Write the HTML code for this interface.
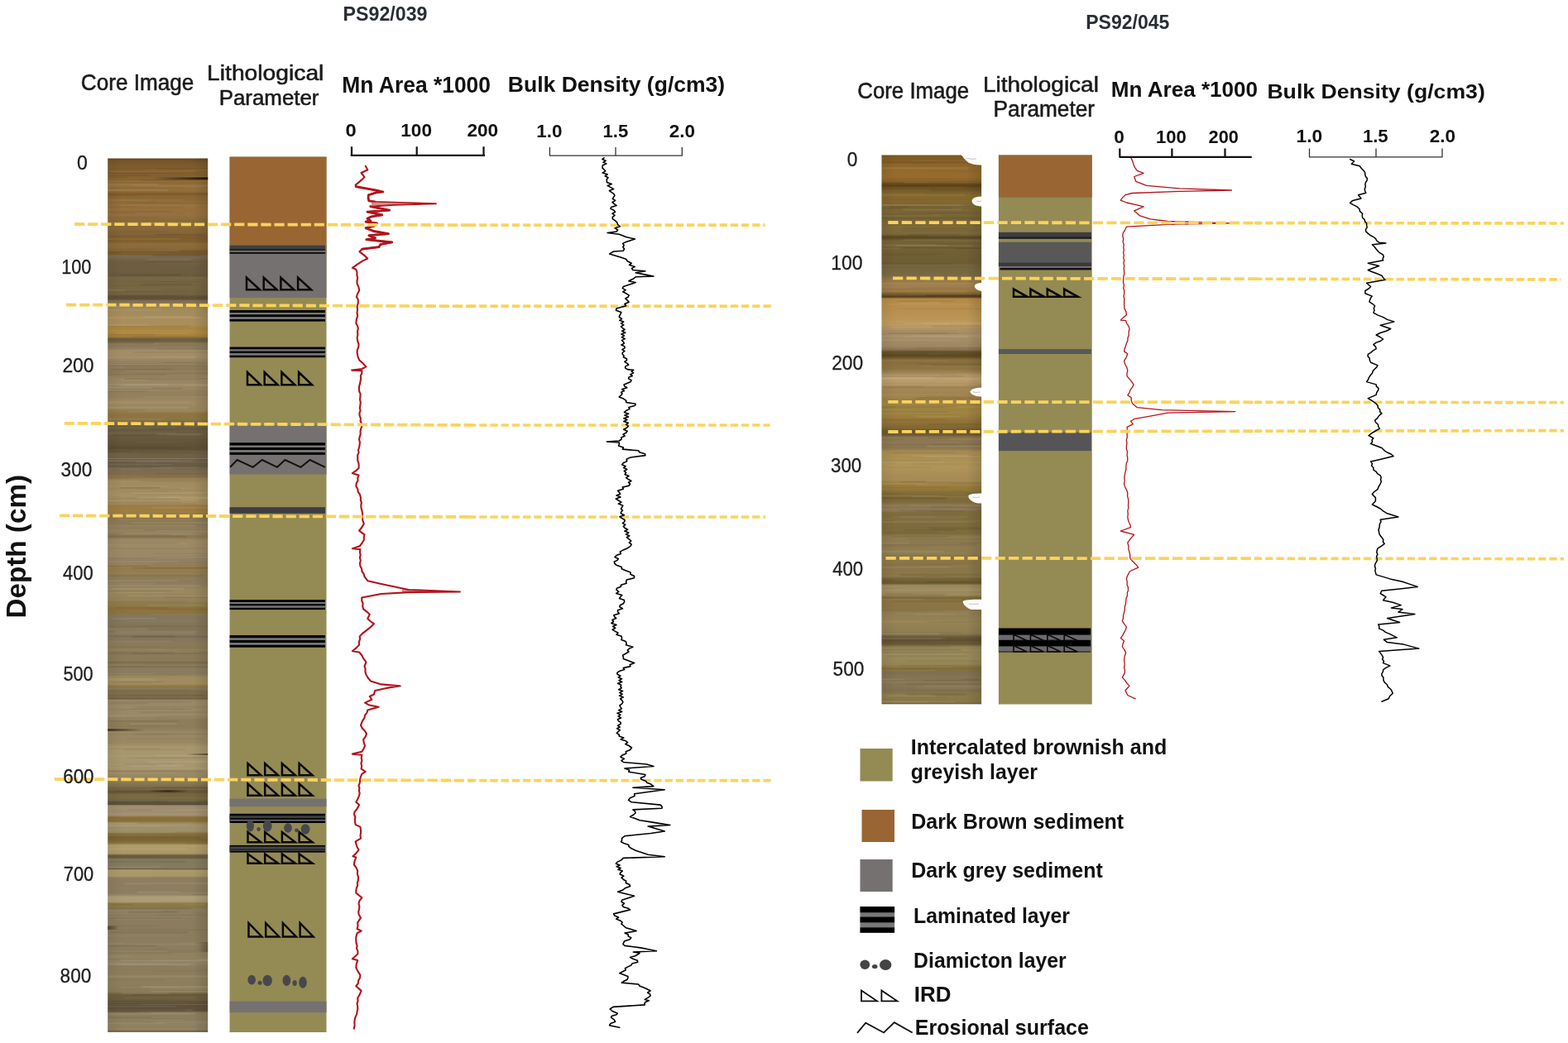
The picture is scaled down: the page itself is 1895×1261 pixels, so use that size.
<!DOCTYPE html><html><head><meta charset="utf-8"><title>PS92/039 and PS92/045 core logs</title>
<style>html,body{margin:0;padding:0;background:#fff;}body{width:1895px;height:1261px;overflow:hidden;}svg{display:block;}text{font-family:'Liberation Sans', Arial, sans-serif;}</style></head><body>
<svg width="1895" height="1261" viewBox="0 0 1895 1261">
<defs>
<linearGradient id="gL" x1="0" y1="191" x2="0" y2="1248" gradientUnits="userSpaceOnUse"><stop offset="0.0000" stop-color="#5e4220"/><stop offset="0.0019" stop-color="#6e4c22"/><stop offset="0.0057" stop-color="#7c5828"/><stop offset="0.0142" stop-color="#82602e"/><stop offset="0.0218" stop-color="#86622f"/><stop offset="0.0255" stop-color="#8a6532"/><stop offset="0.0312" stop-color="#936d38"/><stop offset="0.0378" stop-color="#936e3a"/><stop offset="0.0416" stop-color="#7c5828"/><stop offset="0.0449" stop-color="#8a6634"/><stop offset="0.0511" stop-color="#8e6a36"/><stop offset="0.0577" stop-color="#976f3b"/><stop offset="0.0653" stop-color="#967040"/><stop offset="0.0710" stop-color="#8a6a3a"/><stop offset="0.0776" stop-color="#8a6a38"/><stop offset="0.0851" stop-color="#86663a"/><stop offset="0.0899" stop-color="#7e5c2c"/><stop offset="0.0956" stop-color="#80602e"/><stop offset="0.0984" stop-color="#8e6c3c"/><stop offset="0.1031" stop-color="#8a6a38"/><stop offset="0.1060" stop-color="#7a5a2a"/><stop offset="0.1102" stop-color="#7a5a2a"/><stop offset="0.1116" stop-color="#7a6c52"/><stop offset="0.1145" stop-color="#766850"/><stop offset="0.1183" stop-color="#6e5e40"/><stop offset="0.1306" stop-color="#6e5e40"/><stop offset="0.1343" stop-color="#685a3c"/><stop offset="0.1381" stop-color="#766644"/><stop offset="0.1476" stop-color="#746440"/><stop offset="0.1561" stop-color="#72623e"/><stop offset="0.1589" stop-color="#5e5038"/><stop offset="0.1613" stop-color="#5e5038"/><stop offset="0.1627" stop-color="#7a6a4c"/><stop offset="0.1665" stop-color="#8a7856"/><stop offset="0.1712" stop-color="#a08a5e"/><stop offset="0.1788" stop-color="#a48c5e"/><stop offset="0.1845" stop-color="#a98f5c"/><stop offset="0.1911" stop-color="#ab8e58"/><stop offset="0.1949" stop-color="#a8843e"/><stop offset="0.1996" stop-color="#b08a40"/><stop offset="0.2044" stop-color="#a07e3c"/><stop offset="0.2067" stop-color="#6e6040"/><stop offset="0.2100" stop-color="#6e6040"/><stop offset="0.2119" stop-color="#8a7a58"/><stop offset="0.2176" stop-color="#8e7e5c"/><stop offset="0.2204" stop-color="#a48e68"/><stop offset="0.2280" stop-color="#a48e68"/><stop offset="0.2318" stop-color="#988462"/><stop offset="0.2403" stop-color="#8e7a58"/><stop offset="0.2450" stop-color="#8c7a58"/><stop offset="0.2517" stop-color="#9a8662"/><stop offset="0.2640" stop-color="#9a8662"/><stop offset="0.2677" stop-color="#94805c"/><stop offset="0.2734" stop-color="#94805c"/><stop offset="0.2772" stop-color="#9c8860"/><stop offset="0.2848" stop-color="#9c8860"/><stop offset="0.2886" stop-color="#947e50"/><stop offset="0.2933" stop-color="#8e7440"/><stop offset="0.2990" stop-color="#8e7440"/><stop offset="0.3027" stop-color="#7e6c4c"/><stop offset="0.3065" stop-color="#6e6044"/><stop offset="0.3169" stop-color="#6a5c40"/><stop offset="0.3254" stop-color="#62543a"/><stop offset="0.3321" stop-color="#5e5036"/><stop offset="0.3363" stop-color="#66583c"/><stop offset="0.3387" stop-color="#6e6246"/><stop offset="0.3430" stop-color="#6e6246"/><stop offset="0.3437" stop-color="#8a7c68"/><stop offset="0.3448" stop-color="#6a5c44"/><stop offset="0.3529" stop-color="#6a5c44"/><stop offset="0.3557" stop-color="#7a6c52"/><stop offset="0.3614" stop-color="#7e6c4c"/><stop offset="0.3652" stop-color="#8e7648"/><stop offset="0.3699" stop-color="#a08a5e"/><stop offset="0.3794" stop-color="#a48e60"/><stop offset="0.3888" stop-color="#a89264"/><stop offset="0.3955" stop-color="#a48c5c"/><stop offset="0.3983" stop-color="#9c7e40"/><stop offset="0.4030" stop-color="#a07e40"/><stop offset="0.4068" stop-color="#947c4c"/><stop offset="0.4115" stop-color="#8a7652"/><stop offset="0.4201" stop-color="#8e7a56"/><stop offset="0.4267" stop-color="#958260"/><stop offset="0.4333" stop-color="#8a7650"/><stop offset="0.4371" stop-color="#9c8864"/><stop offset="0.4532" stop-color="#9c8864"/><stop offset="0.4570" stop-color="#928060"/><stop offset="0.4636" stop-color="#928060"/><stop offset="0.4674" stop-color="#947c4c"/><stop offset="0.4740" stop-color="#947c4c"/><stop offset="0.4778" stop-color="#8e7c58"/><stop offset="0.4872" stop-color="#8e7c5c"/><stop offset="0.4939" stop-color="#9a8760"/><stop offset="0.5061" stop-color="#968258"/><stop offset="0.5109" stop-color="#8c7a48"/><stop offset="0.5166" stop-color="#8c7238"/><stop offset="0.5203" stop-color="#8a7440"/><stop offset="0.5232" stop-color="#84775c"/><stop offset="0.5383" stop-color="#827456"/><stop offset="0.5516" stop-color="#84775e"/><stop offset="0.5553" stop-color="#8a7a58"/><stop offset="0.5752" stop-color="#8a7a58"/><stop offset="0.5771" stop-color="#7a6a4c"/><stop offset="0.5790" stop-color="#8a7c5c"/><stop offset="0.5904" stop-color="#8a7c5c"/><stop offset="0.5941" stop-color="#a08c5e"/><stop offset="0.6017" stop-color="#a08c5e"/><stop offset="0.6045" stop-color="#8c7640"/><stop offset="0.6074" stop-color="#8a7a5a"/><stop offset="0.6102" stop-color="#7e6e4c"/><stop offset="0.6168" stop-color="#7e6e4c"/><stop offset="0.6183" stop-color="#6e5e40"/><stop offset="0.6202" stop-color="#9a8866"/><stop offset="0.6386" stop-color="#9a8866"/><stop offset="0.6424" stop-color="#8e7c5a"/><stop offset="0.6518" stop-color="#8e7c5a"/><stop offset="0.6566" stop-color="#9a8864"/><stop offset="0.6689" stop-color="#9a8864"/><stop offset="0.6736" stop-color="#a8966e"/><stop offset="0.6982" stop-color="#a8966e"/><stop offset="0.7020" stop-color="#9e8c66"/><stop offset="0.7086" stop-color="#988660"/><stop offset="0.7143" stop-color="#8a7a56"/><stop offset="0.7190" stop-color="#7e6e4c"/><stop offset="0.7219" stop-color="#6a5a3a"/><stop offset="0.7256" stop-color="#6a5a3a"/><stop offset="0.7285" stop-color="#7a6a48"/><stop offset="0.7332" stop-color="#7a6a3e"/><stop offset="0.7356" stop-color="#6a5e44"/><stop offset="0.7370" stop-color="#5e5440"/><stop offset="0.7394" stop-color="#5e5440"/><stop offset="0.7408" stop-color="#a08e6e"/><stop offset="0.7521" stop-color="#a08e6e"/><stop offset="0.7540" stop-color="#8a7038"/><stop offset="0.7588" stop-color="#8a7038"/><stop offset="0.7606" stop-color="#a09068"/><stop offset="0.7701" stop-color="#a09068"/><stop offset="0.7729" stop-color="#86703e"/><stop offset="0.7796" stop-color="#7a6434"/><stop offset="0.7838" stop-color="#86703e"/><stop offset="0.7862" stop-color="#b09c68"/><stop offset="0.7956" stop-color="#ac9866"/><stop offset="0.7975" stop-color="#6e6244"/><stop offset="0.8004" stop-color="#6e6244"/><stop offset="0.8023" stop-color="#857a5e"/><stop offset="0.8122" stop-color="#857a5e"/><stop offset="0.8132" stop-color="#6a5e44"/><stop offset="0.8146" stop-color="#ac9a6c"/><stop offset="0.8212" stop-color="#a8966a"/><stop offset="0.8240" stop-color="#8c7e5e"/><stop offset="0.8430" stop-color="#8c7e5e"/><stop offset="0.8448" stop-color="#b0a078"/><stop offset="0.8505" stop-color="#aa9a72"/><stop offset="0.8524" stop-color="#8a7844"/><stop offset="0.8562" stop-color="#8a7844"/><stop offset="0.8590" stop-color="#8a7c5c"/><stop offset="0.8884" stop-color="#8a7c5c"/><stop offset="0.9073" stop-color="#8c7e5e"/><stop offset="0.9139" stop-color="#948664"/><stop offset="0.9196" stop-color="#948664"/><stop offset="0.9262" stop-color="#8a7c5c"/><stop offset="0.9404" stop-color="#8e805c"/><stop offset="0.9536" stop-color="#8a7c5a"/><stop offset="0.9565" stop-color="#6e603e"/><stop offset="0.9631" stop-color="#6a5c3c"/><stop offset="0.9659" stop-color="#5e5038"/><stop offset="0.9754" stop-color="#5e5038"/><stop offset="0.9782" stop-color="#8a7c5c"/><stop offset="0.9972" stop-color="#8e8060"/><stop offset="0.9991" stop-color="#6a5c40"/><stop offset="1.0000" stop-color="#5a4c34"/></linearGradient>
<linearGradient id="gR" x1="0" y1="187" x2="0" y2="852" gradientUnits="userSpaceOnUse"><stop offset="0.0000" stop-color="#6e4e1c"/><stop offset="0.0030" stop-color="#7e5a22"/><stop offset="0.0120" stop-color="#825e24"/><stop offset="0.0165" stop-color="#8c6428"/><stop offset="0.0286" stop-color="#936a2c"/><stop offset="0.0406" stop-color="#966c2e"/><stop offset="0.0481" stop-color="#8a6428"/><stop offset="0.0526" stop-color="#6a4c1c"/><stop offset="0.0564" stop-color="#5a4216"/><stop offset="0.0602" stop-color="#6a5022"/><stop offset="0.0662" stop-color="#745a28"/><stop offset="0.0707" stop-color="#84682e"/><stop offset="0.0857" stop-color="#84682e"/><stop offset="0.0917" stop-color="#7c6634"/><stop offset="0.1068" stop-color="#7a6636"/><stop offset="0.1173" stop-color="#786434"/><stop offset="0.1248" stop-color="#7c6838"/><stop offset="0.1323" stop-color="#806a3c"/><stop offset="0.1444" stop-color="#7e683a"/><stop offset="0.1489" stop-color="#5a4a24"/><stop offset="0.1519" stop-color="#5a4a24"/><stop offset="0.1564" stop-color="#746236"/><stop offset="0.1774" stop-color="#726034"/><stop offset="0.1955" stop-color="#6e5c34"/><stop offset="0.2075" stop-color="#766640"/><stop offset="0.2195" stop-color="#7a6a44"/><stop offset="0.2241" stop-color="#8a7448"/><stop offset="0.2316" stop-color="#9a7c48"/><stop offset="0.2406" stop-color="#a08050"/><stop offset="0.2481" stop-color="#967842"/><stop offset="0.2534" stop-color="#7a5c2a"/><stop offset="0.2571" stop-color="#4e3818"/><stop offset="0.2594" stop-color="#6a4e22"/><stop offset="0.2617" stop-color="#b08844"/><stop offset="0.2692" stop-color="#b88c48"/><stop offset="0.2827" stop-color="#b8904e"/><stop offset="0.2992" stop-color="#bc9656"/><stop offset="0.3083" stop-color="#c09c60"/><stop offset="0.3158" stop-color="#b09060"/><stop offset="0.3203" stop-color="#a89068"/><stop offset="0.3383" stop-color="#a48c66"/><stop offset="0.3489" stop-color="#9c8662"/><stop offset="0.3549" stop-color="#8a7050"/><stop offset="0.3579" stop-color="#6a5428"/><stop offset="0.3624" stop-color="#5e4a24"/><stop offset="0.3684" stop-color="#6a5428"/><stop offset="0.3729" stop-color="#8a6e3c"/><stop offset="0.3895" stop-color="#8c7444"/><stop offset="0.3955" stop-color="#9c8050"/><stop offset="0.4000" stop-color="#b09464"/><stop offset="0.4075" stop-color="#c0a070"/><stop offset="0.4135" stop-color="#b89a68"/><stop offset="0.4211" stop-color="#a88a58"/><stop offset="0.4346" stop-color="#a08450"/><stop offset="0.4451" stop-color="#9c7e48"/><stop offset="0.4526" stop-color="#a08442"/><stop offset="0.4707" stop-color="#a08442"/><stop offset="0.4782" stop-color="#9a7a3a"/><stop offset="0.4917" stop-color="#8a6c34"/><stop offset="0.4977" stop-color="#7a6430"/><stop offset="0.5023" stop-color="#6a5630"/><stop offset="0.5098" stop-color="#6e5c36"/><stop offset="0.5143" stop-color="#8a7650"/><stop offset="0.5338" stop-color="#8a7650"/><stop offset="0.5398" stop-color="#a88c50"/><stop offset="0.5684" stop-color="#b09458"/><stop offset="0.5850" stop-color="#a88c56"/><stop offset="0.5910" stop-color="#a88c56"/><stop offset="0.5970" stop-color="#9a7e40"/><stop offset="0.6090" stop-color="#94783a"/><stop offset="0.6150" stop-color="#7e6a38"/><stop offset="0.6316" stop-color="#7e6a38"/><stop offset="0.6361" stop-color="#8a7650"/><stop offset="0.6451" stop-color="#8a7650"/><stop offset="0.6496" stop-color="#7e6c3c"/><stop offset="0.6887" stop-color="#7e6c3c"/><stop offset="0.6947" stop-color="#8e7c50"/><stop offset="0.7233" stop-color="#8e7c50"/><stop offset="0.7308" stop-color="#8a7648"/><stop offset="0.7669" stop-color="#8a7648"/><stop offset="0.7729" stop-color="#6e5c30"/><stop offset="0.7789" stop-color="#6a5a30"/><stop offset="0.7835" stop-color="#a08c60"/><stop offset="0.8015" stop-color="#9a8658"/><stop offset="0.8053" stop-color="#7a6638"/><stop offset="0.8090" stop-color="#8a7444"/><stop offset="0.8271" stop-color="#8a7444"/><stop offset="0.8316" stop-color="#8e7c52"/><stop offset="0.8496" stop-color="#968456"/><stop offset="0.8707" stop-color="#8e7c52"/><stop offset="0.8767" stop-color="#6a5a36"/><stop offset="0.8835" stop-color="#5e5030"/><stop offset="0.8902" stop-color="#6a5a36"/><stop offset="0.8947" stop-color="#948456"/><stop offset="0.9143" stop-color="#9a8a5a"/><stop offset="0.9278" stop-color="#948456"/><stop offset="0.9323" stop-color="#85703a"/><stop offset="0.9368" stop-color="#85703a"/><stop offset="0.9414" stop-color="#7e7050"/><stop offset="0.9594" stop-color="#8a7a56"/><stop offset="0.9744" stop-color="#7e7050"/><stop offset="0.9805" stop-color="#8a7848"/><stop offset="0.9955" stop-color="#8a7848"/><stop offset="0.9985" stop-color="#6a5a38"/><stop offset="1.0000" stop-color="#5a4a30"/></linearGradient>
<linearGradient id="hs" x1="0" y1="0" x2="1" y2="0"><stop offset="0" stop-color="#000" stop-opacity="0.06"/><stop offset="0.15" stop-color="#000" stop-opacity="0"/><stop offset="0.85" stop-color="#000" stop-opacity="0"/><stop offset="1" stop-color="#000" stop-opacity="0.12"/></linearGradient>
<linearGradient id="lamg" x1="0" y1="0" x2="0" y2="1"><stop offset="0" stop-color="#000"/><stop offset="0.2" stop-color="#000"/><stop offset="0.25" stop-color="#777"/><stop offset="0.37" stop-color="#777"/><stop offset="0.42" stop-color="#000"/><stop offset="0.58" stop-color="#000"/><stop offset="0.63" stop-color="#777"/><stop offset="0.77" stop-color="#777"/><stop offset="0.82" stop-color="#000"/><stop offset="1" stop-color="#000"/></linearGradient>
<filter id="soft" x="-0.05" y="-0.01" width="1.1" height="1.02"><feGaussianBlur stdDeviation="1.2 0.5"/></filter>
</defs>
<rect width="1895" height="1261" fill="#fff"/>
<g stroke="#111" fill="none">
<path d="M423.7 187.9H586M425 187.9V177.3M503.7 187.9V177.3M584.5 187.9V177.3" stroke-width="2.2"/>
<path d="M663.9 188.2H824.8M664.4 188.2V178M744 188.2V178M824.3 188.2V178" stroke-width="1.3" stroke="#333"/>
<path d="M1352.5 189.8H1512.8M1353.3 189.8V179.6M1416.4 189.8V179.6M1480.5 189.8V179.6" stroke-width="2.2"/>
<path d="M1582 189.8H1743.5M1582.5 189.8V179.6M1663 189.8V179.6M1743 189.8V179.6" stroke-width="1.3" stroke="#333"/>
</g>
<text x="0" y="0" font-size="32.5" font-weight="bold" fill="#111" textLength="173.5" lengthAdjust="spacingAndGlyphs" transform="translate(31.2,747.5) rotate(-90)">Depth (cm)</text>
<rect x="130.2" y="191.5" width="121" height="1056.3" fill="url(#gL)"/>
<rect x="130.2" y="191.5" width="121" height="1056.3" fill="url(#hs)"/>
<clipPath id="clip11"><rect x="130.2" y="191" width="121" height="1057"/></clipPath><g clip-path="url(#clip11)"><g filter="url(#soft)"><rect x="186.1" y="668.4" width="65.1" height="1.7" fill="#000" fill-opacity="0.039"/><rect x="178.2" y="731.0" width="70.4" height="1.8" fill="#fff" fill-opacity="0.070"/><rect x="130.2" y="922.2" width="95.9" height="0.8" fill="#000" fill-opacity="0.038"/><rect x="133.8" y="207.8" width="66.0" height="1.6" fill="#fff" fill-opacity="0.053"/><rect x="130.2" y="655.9" width="84.7" height="2.1" fill="#000" fill-opacity="0.053"/><rect x="130.2" y="484.9" width="99.8" height="2.4" fill="#fff" fill-opacity="0.041"/><rect x="176.6" y="496.4" width="74.6" height="0.8" fill="#fff" fill-opacity="0.078"/><rect x="130.2" y="1084.2" width="82.5" height="0.7" fill="#000" fill-opacity="0.050"/><rect x="177.3" y="268.9" width="54.7" height="1.8" fill="#fff" fill-opacity="0.078"/><rect x="145.1" y="990.2" width="52.7" height="0.9" fill="#000" fill-opacity="0.039"/><rect x="130.2" y="780.9" width="57.9" height="1.5" fill="#000" fill-opacity="0.036"/><rect x="130.2" y="635.1" width="106.7" height="1.1" fill="#fff" fill-opacity="0.074"/><rect x="130.2" y="413.9" width="55.7" height="1.4" fill="#000" fill-opacity="0.041"/><rect x="150.1" y="464.0" width="53.7" height="2.0" fill="#fff" fill-opacity="0.059"/><rect x="152.7" y="447.9" width="98.5" height="1.7" fill="#fff" fill-opacity="0.059"/><rect x="130.2" y="1104.5" width="107.8" height="1.0" fill="#fff" fill-opacity="0.039"/><rect x="130.2" y="970.6" width="112.4" height="2.3" fill="#000" fill-opacity="0.051"/><rect x="188.4" y="301.3" width="62.8" height="0.8" fill="#fff" fill-opacity="0.071"/><rect x="130.2" y="820.1" width="53.4" height="1.2" fill="#fff" fill-opacity="0.058"/><rect x="130.2" y="1089.6" width="63.2" height="1.7" fill="#fff" fill-opacity="0.043"/><rect x="140.9" y="661.3" width="89.9" height="0.8" fill="#fff" fill-opacity="0.048"/><rect x="130.2" y="1130.2" width="90.8" height="2.4" fill="#fff" fill-opacity="0.032"/><rect x="130.2" y="210.8" width="49.9" height="2.2" fill="#000" fill-opacity="0.054"/><rect x="190.7" y="961.2" width="60.5" height="1.2" fill="#000" fill-opacity="0.075"/><rect x="130.2" y="968.2" width="73.9" height="1.9" fill="#000" fill-opacity="0.075"/><rect x="130.2" y="1109.3" width="90.0" height="1.4" fill="#000" fill-opacity="0.049"/><rect x="130.2" y="805.6" width="120.5" height="1.7" fill="#000" fill-opacity="0.066"/><rect x="165.3" y="601.0" width="85.9" height="1.9" fill="#fff" fill-opacity="0.068"/><rect x="159.3" y="223.4" width="91.9" height="1.7" fill="#fff" fill-opacity="0.061"/><rect x="130.9" y="1161.2" width="97.6" height="1.1" fill="#fff" fill-opacity="0.038"/><rect x="130.2" y="1145.7" width="72.1" height="1.8" fill="#000" fill-opacity="0.040"/><rect x="130.2" y="645.7" width="76.3" height="2.1" fill="#000" fill-opacity="0.046"/><rect x="130.2" y="335.4" width="100.0" height="1.5" fill="#000" fill-opacity="0.044"/><rect x="146.8" y="370.1" width="78.5" height="1.5" fill="#000" fill-opacity="0.055"/><rect x="189.6" y="524.1" width="53.8" height="2.1" fill="#fff" fill-opacity="0.074"/><rect x="164.7" y="235.7" width="86.5" height="1.9" fill="#fff" fill-opacity="0.037"/><rect x="180.4" y="670.9" width="58.6" height="0.7" fill="#fff" fill-opacity="0.061"/><rect x="130.2" y="662.1" width="118.0" height="1.8" fill="#000" fill-opacity="0.040"/><rect x="130.9" y="692.3" width="100.2" height="1.0" fill="#fff" fill-opacity="0.044"/><rect x="130.2" y="556.1" width="103.3" height="1.9" fill="#fff" fill-opacity="0.070"/><rect x="130.2" y="1146.3" width="57.8" height="0.8" fill="#fff" fill-opacity="0.061"/><rect x="130.2" y="1150.2" width="106.2" height="1.3" fill="#000" fill-opacity="0.053"/><rect x="130.2" y="877.8" width="95.0" height="1.0" fill="#000" fill-opacity="0.041"/><rect x="130.2" y="1139.7" width="105.8" height="2.4" fill="#fff" fill-opacity="0.075"/><rect x="135.2" y="1093.1" width="88.4" height="1.3" fill="#000" fill-opacity="0.054"/><rect x="130.2" y="221.9" width="61.0" height="2.1" fill="#fff" fill-opacity="0.069"/><rect x="130.2" y="339.9" width="109.4" height="1.0" fill="#000" fill-opacity="0.077"/><rect x="135.4" y="710.7" width="86.6" height="2.3" fill="#fff" fill-opacity="0.066"/><rect x="130.2" y="864.7" width="71.0" height="1.6" fill="#fff" fill-opacity="0.072"/><rect x="130.2" y="1140.3" width="86.5" height="1.1" fill="#000" fill-opacity="0.040"/><rect x="166.8" y="756.3" width="84.4" height="1.6" fill="#000" fill-opacity="0.050"/><rect x="130.2" y="1035.5" width="53.2" height="1.7" fill="#000" fill-opacity="0.051"/><rect x="146.5" y="1199.6" width="57.6" height="2.3" fill="#fff" fill-opacity="0.071"/><rect x="149.4" y="1140.3" width="93.3" height="1.5" fill="#000" fill-opacity="0.036"/><rect x="141.9" y="1012.6" width="98.3" height="0.7" fill="#fff" fill-opacity="0.048"/><rect x="174.4" y="844.6" width="76.8" height="0.9" fill="#fff" fill-opacity="0.040"/><rect x="152.9" y="750.5" width="86.8" height="1.4" fill="#fff" fill-opacity="0.040"/><rect x="130.2" y="856.8" width="92.8" height="1.8" fill="#000" fill-opacity="0.042"/><rect x="184.8" y="972.0" width="66.4" height="2.1" fill="#000" fill-opacity="0.041"/><rect x="138.3" y="1243.3" width="101.1" height="2.2" fill="#fff" fill-opacity="0.035"/><rect x="178.0" y="1068.3" width="73.2" height="1.4" fill="#000" fill-opacity="0.031"/><rect x="130.2" y="403.6" width="56.8" height="1.9" fill="#000" fill-opacity="0.068"/><rect x="141.6" y="721.4" width="56.1" height="1.9" fill="#fff" fill-opacity="0.058"/><rect x="139.1" y="734.1" width="63.2" height="1.7" fill="#000" fill-opacity="0.080"/><rect x="130.2" y="1168.0" width="81.9" height="0.9" fill="#000" fill-opacity="0.046"/><rect x="130.2" y="683.7" width="49.4" height="1.6" fill="#000" fill-opacity="0.072"/><rect x="174.9" y="382.9" width="62.6" height="1.5" fill="#fff" fill-opacity="0.056"/><rect x="130.2" y="208.2" width="110.9" height="2.2" fill="#000" fill-opacity="0.050"/><rect x="130.2" y="823.4" width="67.1" height="1.6" fill="#000" fill-opacity="0.067"/><rect x="130.2" y="1011.2" width="112.3" height="2.1" fill="#000" fill-opacity="0.068"/><rect x="173.9" y="997.8" width="73.2" height="1.4" fill="#fff" fill-opacity="0.031"/><rect x="168.0" y="566.5" width="83.2" height="1.8" fill="#000" fill-opacity="0.047"/><rect x="162.5" y="886.7" width="88.7" height="1.7" fill="#000" fill-opacity="0.065"/><rect x="130.2" y="994.1" width="102.0" height="2.4" fill="#fff" fill-opacity="0.050"/><rect x="152.9" y="245.1" width="66.6" height="1.0" fill="#000" fill-opacity="0.058"/><rect x="130.2" y="726.7" width="94.7" height="2.3" fill="#000" fill-opacity="0.034"/><rect x="130.2" y="821.2" width="60.0" height="2.0" fill="#fff" fill-opacity="0.038"/><rect x="130.2" y="713.8" width="78.9" height="1.7" fill="#000" fill-opacity="0.060"/><rect x="130.2" y="577.0" width="69.0" height="1.2" fill="#000" fill-opacity="0.045"/><rect x="132.8" y="206.8" width="103.2" height="1.1" fill="#fff" fill-opacity="0.075"/><rect x="130.2" y="980.0" width="53.7" height="0.8" fill="#000" fill-opacity="0.051"/><rect x="130.2" y="694.9" width="116.4" height="2.4" fill="#000" fill-opacity="0.053"/><rect x="166.7" y="1222.7" width="84.5" height="2.1" fill="#fff" fill-opacity="0.040"/><rect x="137.7" y="246.8" width="96.9" height="1.6" fill="#fff" fill-opacity="0.043"/><rect x="130.2" y="805.1" width="120.8" height="1.4" fill="#000" fill-opacity="0.067"/><rect x="130.2" y="443.0" width="93.8" height="0.9" fill="#fff" fill-opacity="0.044"/><rect x="130.2" y="913.3" width="103.1" height="1.7" fill="#fff" fill-opacity="0.042"/><rect x="183.4" y="1223.6" width="52.8" height="2.3" fill="#fff" fill-opacity="0.051"/><rect x="163.0" y="848.4" width="54.7" height="0.9" fill="#000" fill-opacity="0.058"/><rect x="159.2" y="856.6" width="73.4" height="1.3" fill="#000" fill-opacity="0.072"/><rect x="130.2" y="270.3" width="104.2" height="0.9" fill="#fff" fill-opacity="0.051"/><rect x="130.2" y="463.8" width="120.2" height="2.1" fill="#fff" fill-opacity="0.057"/><rect x="156.1" y="977.6" width="55.4" height="2.3" fill="#000" fill-opacity="0.034"/><rect x="130.2" y="279.4" width="70.1" height="1.7" fill="#000" fill-opacity="0.034"/><rect x="135.1" y="416.6" width="101.0" height="1.8" fill="#000" fill-opacity="0.044"/><rect x="174.1" y="342.5" width="56.9" height="1.3" fill="#000" fill-opacity="0.058"/><rect x="185.5" y="1159.2" width="65.7" height="2.3" fill="#fff" fill-opacity="0.046"/><rect x="184.3" y="612.8" width="66.9" height="2.3" fill="#fff" fill-opacity="0.048"/><rect x="130.2" y="608.6" width="106.3" height="1.4" fill="#000" fill-opacity="0.072"/><rect x="130.2" y="784.6" width="68.8" height="1.0" fill="#fff" fill-opacity="0.056"/><rect x="130.2" y="765.0" width="106.8" height="1.7" fill="#fff" fill-opacity="0.057"/><rect x="130.2" y="1021.8" width="113.7" height="0.8" fill="#fff" fill-opacity="0.062"/><rect x="169.5" y="343.5" width="64.4" height="2.0" fill="#000" fill-opacity="0.056"/><rect x="130.2" y="997.2" width="97.2" height="1.4" fill="#fff" fill-opacity="0.057"/><rect x="185.6" y="951.1" width="65.6" height="1.9" fill="#000" fill-opacity="0.073"/><rect x="130.2" y="1040.6" width="94.9" height="2.1" fill="#000" fill-opacity="0.066"/><rect x="155.6" y="1036.8" width="95.6" height="1.4" fill="#000" fill-opacity="0.049"/><rect x="155.9" y="368.5" width="95.3" height="1.0" fill="#fff" fill-opacity="0.045"/><rect x="177.1" y="312.9" width="52.9" height="1.8" fill="#fff" fill-opacity="0.059"/><rect x="136.8" y="1149.5" width="64.2" height="0.8" fill="#fff" fill-opacity="0.066"/><rect x="141.4" y="818.3" width="60.9" height="1.1" fill="#000" fill-opacity="0.046"/><rect x="159.2" y="769.3" width="92.0" height="2.1" fill="#000" fill-opacity="0.047"/><rect x="159.4" y="768.4" width="52.0" height="2.3" fill="#000" fill-opacity="0.070"/><rect x="161.4" y="597.4" width="89.8" height="1.6" fill="#000" fill-opacity="0.042"/><rect x="130.2" y="203.5" width="100.2" height="1.5" fill="#000" fill-opacity="0.038"/><rect x="130.2" y="357.2" width="85.9" height="1.2" fill="#000" fill-opacity="0.080"/><rect x="130.2" y="472.6" width="48.5" height="1.6" fill="#000" fill-opacity="0.072"/><rect x="130.2" y="1057.7" width="55.5" height="0.8" fill="#fff" fill-opacity="0.053"/><rect x="182.1" y="1198.1" width="69.1" height="1.7" fill="#fff" fill-opacity="0.076"/><rect x="130.2" y="287.8" width="86.6" height="2.1" fill="#fff" fill-opacity="0.072"/><rect x="134.8" y="519.9" width="82.3" height="1.2" fill="#000" fill-opacity="0.048"/><rect x="154.1" y="915.5" width="97.1" height="0.9" fill="#000" fill-opacity="0.063"/><rect x="173.2" y="205.0" width="78.0" height="1.3" fill="#fff" fill-opacity="0.031"/><rect x="130.2" y="1236.2" width="69.5" height="2.1" fill="#fff" fill-opacity="0.057"/><rect x="130.2" y="506.0" width="67.0" height="1.3" fill="#fff" fill-opacity="0.067"/><rect x="130.2" y="538.9" width="72.5" height="2.3" fill="#000" fill-opacity="0.035"/><rect x="130.2" y="340.3" width="61.5" height="0.9" fill="#fff" fill-opacity="0.072"/><rect x="143.9" y="816.2" width="57.4" height="0.9" fill="#fff" fill-opacity="0.034"/><rect x="130.2" y="1161.4" width="104.1" height="1.4" fill="#000" fill-opacity="0.049"/><rect x="131.1" y="541.0" width="99.2" height="1.4" fill="#000" fill-opacity="0.069"/><rect x="131.3" y="887.2" width="73.2" height="1.7" fill="#000" fill-opacity="0.035"/><rect x="130.2" y="589.6" width="92.8" height="1.6" fill="#fff" fill-opacity="0.068"/><rect x="130.2" y="1142.9" width="58.7" height="1.6" fill="#000" fill-opacity="0.079"/><rect x="180.7" y="735.4" width="70.5" height="1.9" fill="#000" fill-opacity="0.040"/><rect x="130.2" y="279.6" width="72.3" height="1.1" fill="#000" fill-opacity="0.048"/><rect x="189.1" y="679.6" width="62.1" height="0.9" fill="#000" fill-opacity="0.058"/><rect x="130.2" y="782.0" width="107.8" height="1.1" fill="#000" fill-opacity="0.036"/><rect x="184.5" y="1060.4" width="66.7" height="1.2" fill="#000" fill-opacity="0.039"/><rect x="132.1" y="768.9" width="119.1" height="0.8" fill="#000" fill-opacity="0.063"/><rect x="174.8" y="516.0" width="76.4" height="1.8" fill="#000" fill-opacity="0.031"/><rect x="138.9" y="402.1" width="89.7" height="1.5" fill="#fff" fill-opacity="0.056"/><rect x="130.2" y="469.6" width="51.1" height="1.7" fill="#000" fill-opacity="0.037"/><rect x="158.6" y="1202.2" width="92.6" height="1.7" fill="#000" fill-opacity="0.068"/><rect x="130.2" y="983.6" width="110.5" height="1.5" fill="#fff" fill-opacity="0.052"/><rect x="130.2" y="788.0" width="79.8" height="2.2" fill="#000" fill-opacity="0.046"/><rect x="130.2" y="249.6" width="91.8" height="1.9" fill="#000" fill-opacity="0.045"/><rect x="137.7" y="816.9" width="84.9" height="0.8" fill="#fff" fill-opacity="0.033"/><rect x="144.7" y="923.7" width="77.1" height="1.6" fill="#fff" fill-opacity="0.033"/><rect x="130.2" y="1151.6" width="79.0" height="2.3" fill="#000" fill-opacity="0.041"/><rect x="184.9" y="978.2" width="66.3" height="1.7" fill="#fff" fill-opacity="0.057"/><rect x="145.0" y="1193.4" width="72.0" height="0.7" fill="#fff" fill-opacity="0.075"/><rect x="130.2" y="1050.7" width="51.7" height="1.4" fill="#fff" fill-opacity="0.075"/><rect x="130.2" y="516.2" width="82.7" height="1.5" fill="#fff" fill-opacity="0.045"/><rect x="130.2" y="1163.5" width="74.1" height="2.2" fill="#fff" fill-opacity="0.039"/><rect x="130.2" y="1118.3" width="62.3" height="2.4" fill="#000" fill-opacity="0.033"/><rect x="130.2" y="303.7" width="111.5" height="1.9" fill="#000" fill-opacity="0.037"/><rect x="157.1" y="924.8" width="64.6" height="2.3" fill="#fff" fill-opacity="0.066"/><rect x="130.2" y="398.9" width="105.8" height="1.0" fill="#fff" fill-opacity="0.063"/><rect x="144.1" y="1123.3" width="107.1" height="1.7" fill="#000" fill-opacity="0.044"/><rect x="189.7" y="865.8" width="61.5" height="0.9" fill="#000" fill-opacity="0.032"/><rect x="130.2" y="823.5" width="54.7" height="1.2" fill="#fff" fill-opacity="0.068"/><rect x="163.4" y="450.9" width="87.8" height="1.2" fill="#000" fill-opacity="0.032"/><rect x="130.2" y="678.1" width="84.7" height="2.0" fill="#fff" fill-opacity="0.058"/><rect x="130.2" y="871.1" width="85.9" height="1.3" fill="#000" fill-opacity="0.072"/><rect x="187.8" y="912.5" width="63.4" height="1.6" fill="#fff" fill-opacity="0.060"/><rect x="130.2" y="439.8" width="105.8" height="1.4" fill="#fff" fill-opacity="0.054"/><rect x="160.4" y="425.0" width="90.8" height="1.7" fill="#000" fill-opacity="0.059"/><rect x="139.4" y="1111.1" width="84.4" height="1.0" fill="#fff" fill-opacity="0.052"/><rect x="130.2" y="468.9" width="89.7" height="2.1" fill="#000" fill-opacity="0.070"/><rect x="149.0" y="442.6" width="71.2" height="0.9" fill="#000" fill-opacity="0.056"/><rect x="130.2" y="470.8" width="60.9" height="1.7" fill="#fff" fill-opacity="0.038"/><rect x="177.8" y="919.3" width="73.4" height="2.1" fill="#fff" fill-opacity="0.041"/><rect x="130.2" y="1214.0" width="120.0" height="0.8" fill="#fff" fill-opacity="0.053"/><rect x="130.2" y="976.4" width="58.7" height="0.8" fill="#fff" fill-opacity="0.045"/><rect x="130.2" y="638.9" width="103.8" height="0.8" fill="#000" fill-opacity="0.041"/><rect x="144.8" y="458.6" width="106.4" height="1.6" fill="#fff" fill-opacity="0.047"/><rect x="132.6" y="1225.3" width="95.6" height="1.7" fill="#fff" fill-opacity="0.047"/><rect x="130.2" y="923.5" width="82.0" height="2.2" fill="#fff" fill-opacity="0.072"/><rect x="143.2" y="593.3" width="61.7" height="2.0" fill="#000" fill-opacity="0.038"/><rect x="158.5" y="406.4" width="80.9" height="1.1" fill="#000" fill-opacity="0.064"/><rect x="153.4" y="1100.4" width="97.8" height="1.0" fill="#fff" fill-opacity="0.044"/><rect x="146.1" y="211.5" width="105.1" height="1.0" fill="#000" fill-opacity="0.043"/><rect x="186.9" y="572.2" width="64.3" height="1.0" fill="#000" fill-opacity="0.075"/><rect x="153.5" y="213.5" width="97.7" height="1.2" fill="#fff" fill-opacity="0.069"/><rect x="154.0" y="738.8" width="51.4" height="0.8" fill="#fff" fill-opacity="0.060"/><rect x="130.2" y="225.5" width="58.3" height="1.2" fill="#000" fill-opacity="0.043"/><rect x="139.1" y="955.9" width="68.8" height="1.8" fill="#000" fill-opacity="0.050"/><rect x="143.9" y="599.0" width="73.4" height="2.2" fill="#fff" fill-opacity="0.032"/><rect x="130.2" y="217.8" width="119.2" height="1.8" fill="#fff" fill-opacity="0.064"/><rect x="130.2" y="1159.8" width="117.7" height="1.1" fill="#000" fill-opacity="0.042"/><rect x="156.1" y="858.0" width="52.8" height="0.9" fill="#fff" fill-opacity="0.046"/><rect x="139.8" y="715.5" width="82.9" height="1.2" fill="#fff" fill-opacity="0.063"/><rect x="150.9" y="444.5" width="59.3" height="0.9" fill="#000" fill-opacity="0.065"/><rect x="131.6" y="774.5" width="74.8" height="1.9" fill="#fff" fill-opacity="0.050"/><rect x="165.6" y="249.5" width="72.0" height="1.5" fill="#fff" fill-opacity="0.031"/><rect x="164.4" y="557.5" width="86.8" height="2.2" fill="#fff" fill-opacity="0.053"/><rect x="130.2" y="839.9" width="116.8" height="2.3" fill="#000" fill-opacity="0.061"/><rect x="155.3" y="845.7" width="95.9" height="1.4" fill="#000" fill-opacity="0.049"/><rect x="130.2" y="1149.8" width="70.8" height="0.8" fill="#fff" fill-opacity="0.079"/><rect x="130.2" y="349.8" width="65.4" height="1.0" fill="#fff" fill-opacity="0.057"/><rect x="130.2" y="606.8" width="88.2" height="1.1" fill="#000" fill-opacity="0.058"/><rect x="150.4" y="1067.1" width="100.8" height="2.3" fill="#fff" fill-opacity="0.066"/><rect x="130.2" y="924.2" width="60.0" height="1.9" fill="#000" fill-opacity="0.055"/><rect x="130.2" y="785.7" width="87.2" height="1.3" fill="#fff" fill-opacity="0.042"/><rect x="161.3" y="534.2" width="53.0" height="1.0" fill="#fff" fill-opacity="0.035"/><rect x="130.2" y="934.1" width="83.3" height="0.9" fill="#fff" fill-opacity="0.073"/><rect x="130.2" y="1107.9" width="106.2" height="0.8" fill="#fff" fill-opacity="0.066"/><rect x="150.0" y="457.2" width="101.2" height="1.9" fill="#000" fill-opacity="0.071"/><rect x="130.2" y="789.5" width="108.7" height="1.4" fill="#000" fill-opacity="0.036"/><rect x="144.2" y="588.9" width="49.4" height="1.8" fill="#000" fill-opacity="0.077"/><rect x="171.8" y="1213.9" width="79.4" height="0.9" fill="#fff" fill-opacity="0.077"/><rect x="173.4" y="1233.2" width="51.5" height="0.8" fill="#fff" fill-opacity="0.067"/><rect x="150.2" y="1238.3" width="87.8" height="0.9" fill="#fff" fill-opacity="0.049"/><rect x="180.9" y="517.6" width="70.3" height="2.1" fill="#000" fill-opacity="0.068"/><rect x="130.2" y="1225.0" width="106.5" height="1.4" fill="#fff" fill-opacity="0.039"/><rect x="145.4" y="304.8" width="57.1" height="2.3" fill="#fff" fill-opacity="0.031"/><rect x="168.0" y="787.9" width="64.9" height="0.9" fill="#fff" fill-opacity="0.048"/><rect x="130.2" y="465.3" width="70.9" height="0.8" fill="#fff" fill-opacity="0.039"/><rect x="130.2" y="701.1" width="83.6" height="2.4" fill="#fff" fill-opacity="0.070"/><rect x="130.2" y="608.9" width="93.6" height="0.8" fill="#fff" fill-opacity="0.077"/><rect x="130.2" y="1102.4" width="101.0" height="2.4" fill="#fff" fill-opacity="0.031"/><rect x="134.7" y="369.8" width="103.1" height="0.9" fill="#fff" fill-opacity="0.056"/><rect x="188.2" y="203.0" width="63.0" height="1.1" fill="#000" fill-opacity="0.070"/><rect x="130.2" y="966.4" width="104.1" height="1.4" fill="#000" fill-opacity="0.035"/><rect x="172.9" y="1192.7" width="78.3" height="1.4" fill="#fff" fill-opacity="0.059"/><rect x="130.2" y="431.3" width="107.3" height="1.4" fill="#fff" fill-opacity="0.062"/><rect x="185.0" y="564.8" width="55.2" height="1.2" fill="#fff" fill-opacity="0.067"/><rect x="130.2" y="414.5" width="61.3" height="2.0" fill="#fff" fill-opacity="0.037"/><rect x="130.2" y="560.9" width="77.7" height="1.4" fill="#fff" fill-opacity="0.057"/><rect x="183.5" y="1194.8" width="67.7" height="1.0" fill="#fff" fill-opacity="0.079"/><rect x="143.5" y="644.9" width="99.7" height="2.3" fill="#fff" fill-opacity="0.044"/><rect x="149.7" y="905.1" width="74.3" height="2.3" fill="#000" fill-opacity="0.037"/><rect x="169.2" y="860.4" width="82.0" height="1.3" fill="#000" fill-opacity="0.073"/><rect x="164.5" y="853.9" width="86.7" height="1.6" fill="#000" fill-opacity="0.053"/><rect x="153.5" y="892.7" width="92.0" height="1.4" fill="#000" fill-opacity="0.056"/><rect x="130.2" y="225.9" width="91.6" height="1.8" fill="#000" fill-opacity="0.038"/><rect x="174.8" y="685.5" width="76.4" height="2.4" fill="#000" fill-opacity="0.050"/><rect x="190.1" y="1105.5" width="61.1" height="0.9" fill="#000" fill-opacity="0.062"/><rect x="130.2" y="1179.4" width="120.5" height="2.1" fill="#fff" fill-opacity="0.074"/><rect x="179.0" y="941.4" width="72.2" height="1.1" fill="#000" fill-opacity="0.040"/><rect x="130.2" y="486.4" width="105.5" height="1.8" fill="#fff" fill-opacity="0.042"/><rect x="130.2" y="1034.4" width="114.2" height="2.2" fill="#000" fill-opacity="0.038"/><rect x="132.4" y="577.2" width="111.2" height="0.9" fill="#000" fill-opacity="0.036"/><rect x="130.2" y="383.3" width="113.9" height="1.4" fill="#fff" fill-opacity="0.079"/><rect x="130.2" y="409.7" width="62.7" height="1.8" fill="#000" fill-opacity="0.052"/><rect x="130.2" y="208.2" width="68.6" height="1.3" fill="#000" fill-opacity="0.065"/><rect x="172.2" y="382.2" width="57.8" height="0.9" fill="#fff" fill-opacity="0.077"/><rect x="130.2" y="834.4" width="98.6" height="1.3" fill="#000" fill-opacity="0.048"/><rect x="130.2" y="518.7" width="79.2" height="1.4" fill="#000" fill-opacity="0.050"/><rect x="187.2" y="673.0" width="64.0" height="1.6" fill="#fff" fill-opacity="0.059"/><rect x="130.2" y="492.0" width="97.5" height="2.2" fill="#fff" fill-opacity="0.077"/><rect x="166.6" y="600.2" width="53.1" height="2.0" fill="#fff" fill-opacity="0.044"/><rect x="130.2" y="656.3" width="97.2" height="2.3" fill="#fff" fill-opacity="0.051"/><rect x="145.4" y="331.2" width="73.2" height="2.2" fill="#000" fill-opacity="0.073"/><rect x="130.2" y="814.0" width="54.8" height="1.6" fill="#fff" fill-opacity="0.049"/><rect x="130.2" y="953.4" width="117.3" height="1.8" fill="#fff" fill-opacity="0.062"/><rect x="158.3" y="686.1" width="92.9" height="1.3" fill="#000" fill-opacity="0.079"/><rect x="130.2" y="1220.2" width="95.6" height="2.4" fill="#000" fill-opacity="0.080"/><rect x="130.2" y="262.1" width="64.2" height="1.5" fill="#000" fill-opacity="0.040"/><rect x="130.2" y="581.5" width="54.5" height="0.9" fill="#fff" fill-opacity="0.062"/><rect x="130.2" y="848.0" width="101.5" height="2.0" fill="#000" fill-opacity="0.036"/><rect x="130.2" y="685.5" width="113.4" height="0.7" fill="#fff" fill-opacity="0.048"/><rect x="130.2" y="756.3" width="70.3" height="1.6" fill="#000" fill-opacity="0.036"/><rect x="130.2" y="790.0" width="69.7" height="0.9" fill="#000" fill-opacity="0.042"/><rect x="143.4" y="627.9" width="88.9" height="0.8" fill="#fff" fill-opacity="0.073"/><rect x="130.2" y="301.9" width="86.5" height="2.1" fill="#fff" fill-opacity="0.061"/><rect x="155.2" y="1101.6" width="59.6" height="2.3" fill="#000" fill-opacity="0.067"/><rect x="162.3" y="942.4" width="56.4" height="1.0" fill="#fff" fill-opacity="0.078"/><rect x="133.0" y="869.1" width="54.1" height="2.1" fill="#fff" fill-opacity="0.036"/><rect x="130.2" y="1159.5" width="112.8" height="1.3" fill="#000" fill-opacity="0.058"/><rect x="154.1" y="719.5" width="97.1" height="2.2" fill="#fff" fill-opacity="0.048"/><rect x="151.9" y="644.0" width="81.1" height="1.5" fill="#fff" fill-opacity="0.072"/><rect x="163.3" y="257.0" width="64.6" height="1.6" fill="#fff" fill-opacity="0.049"/><rect x="130.2" y="523.1" width="83.8" height="1.5" fill="#fff" fill-opacity="0.050"/><rect x="130.2" y="1209.5" width="74.9" height="0.7" fill="#000" fill-opacity="0.048"/><rect x="165.9" y="509.1" width="84.5" height="1.7" fill="#000" fill-opacity="0.068"/><rect x="145.4" y="247.9" width="105.8" height="0.9" fill="#fff" fill-opacity="0.073"/><rect x="171.3" y="615.6" width="79.9" height="1.2" fill="#000" fill-opacity="0.046"/><rect x="130.2" y="526.2" width="52.5" height="2.1" fill="#000" fill-opacity="0.032"/><rect x="130.2" y="849.8" width="50.0" height="1.6" fill="#000" fill-opacity="0.068"/><rect x="174.8" y="802.6" width="76.4" height="0.7" fill="#000" fill-opacity="0.076"/><rect x="130.2" y="270.9" width="75.8" height="2.0" fill="#fff" fill-opacity="0.052"/><rect x="174.6" y="316.2" width="56.8" height="1.2" fill="#000" fill-opacity="0.063"/><rect x="137.4" y="769.2" width="113.8" height="0.9" fill="#000" fill-opacity="0.076"/><rect x="130.2" y="414.3" width="57.4" height="1.4" fill="#000" fill-opacity="0.054"/><rect x="130.2" y="225.0" width="115.8" height="1.4" fill="#fff" fill-opacity="0.064"/><rect x="130.2" y="600.6" width="60.5" height="2.0" fill="#000" fill-opacity="0.040"/><rect x="130.2" y="556.6" width="86.1" height="1.0" fill="#fff" fill-opacity="0.059"/><rect x="165.5" y="1078.9" width="85.7" height="1.3" fill="#fff" fill-opacity="0.065"/><rect x="130.2" y="438.0" width="67.1" height="1.1" fill="#fff" fill-opacity="0.071"/><rect x="130.2" y="589.6" width="89.0" height="1.9" fill="#000" fill-opacity="0.075"/><rect x="130.2" y="671.9" width="55.8" height="1.5" fill="#fff" fill-opacity="0.072"/><rect x="130.2" y="228.9" width="72.6" height="1.9" fill="#fff" fill-opacity="0.078"/><rect x="130.2" y="997.3" width="64.3" height="2.1" fill="#fff" fill-opacity="0.057"/><rect x="130.2" y="834.2" width="113.7" height="0.9" fill="#000" fill-opacity="0.064"/><rect x="173.7" y="575.3" width="77.5" height="2.3" fill="#000" fill-opacity="0.043"/><rect x="162.7" y="454.4" width="69.7" height="0.7" fill="#fff" fill-opacity="0.037"/><rect x="147.4" y="702.6" width="85.4" height="1.2" fill="#000" fill-opacity="0.038"/><rect x="130.2" y="1097.2" width="101.7" height="2.2" fill="#000" fill-opacity="0.063"/><rect x="145.9" y="1160.0" width="105.3" height="2.0" fill="#fff" fill-opacity="0.069"/><rect x="130.2" y="437.8" width="116.9" height="1.5" fill="#000" fill-opacity="0.058"/><rect x="187.7" y="559.2" width="63.5" height="1.1" fill="#000" fill-opacity="0.034"/><rect x="164.4" y="1141.5" width="86.8" height="0.9" fill="#fff" fill-opacity="0.074"/><rect x="134.3" y="256.7" width="89.8" height="1.8" fill="#000" fill-opacity="0.064"/><rect x="161.7" y="1092.6" width="86.7" height="2.0" fill="#fff" fill-opacity="0.056"/><rect x="130.2" y="565.0" width="78.7" height="1.5" fill="#fff" fill-opacity="0.034"/><rect x="130.2" y="704.8" width="58.2" height="1.6" fill="#fff" fill-opacity="0.047"/><rect x="130.2" y="931.3" width="115.6" height="2.3" fill="#000" fill-opacity="0.077"/><rect x="130.2" y="213.3" width="92.9" height="1.5" fill="#000" fill-opacity="0.077"/><rect x="188.2" y="283.0" width="56.5" height="1.6" fill="#000" fill-opacity="0.078"/><rect x="130.2" y="217.3" width="86.1" height="0.8" fill="#000" fill-opacity="0.068"/><rect x="130.2" y="1042.6" width="119.2" height="0.7" fill="#000" fill-opacity="0.050"/><rect x="130.2" y="545.3" width="67.4" height="1.3" fill="#000" fill-opacity="0.056"/><rect x="157.7" y="545.2" width="93.5" height="1.8" fill="#fff" fill-opacity="0.037"/><rect x="177.6" y="458.9" width="65.7" height="1.5" fill="#000" fill-opacity="0.043"/><rect x="183.3" y="742.5" width="65.3" height="1.1" fill="#fff" fill-opacity="0.046"/><rect x="130.2" y="956.9" width="54.1" height="1.8" fill="#000" fill-opacity="0.042"/><rect x="190.1" y="421.4" width="61.1" height="1.4" fill="#000" fill-opacity="0.080"/><rect x="130.2" y="599.7" width="73.0" height="0.9" fill="#000" fill-opacity="0.049"/><rect x="175.1" y="494.3" width="76.1" height="1.7" fill="#fff" fill-opacity="0.055"/><rect x="185.5" y="592.6" width="63.3" height="0.8" fill="#000" fill-opacity="0.078"/><rect x="186.5" y="1172.8" width="64.7" height="1.3" fill="#000" fill-opacity="0.040"/><rect x="130.2" y="334.9" width="117.3" height="1.9" fill="#fff" fill-opacity="0.049"/><rect x="187.0" y="318.5" width="61.8" height="1.2" fill="#fff" fill-opacity="0.032"/><rect x="130.2" y="515.2" width="87.6" height="1.0" fill="#000" fill-opacity="0.068"/><rect x="135.1" y="746.7" width="54.0" height="2.3" fill="#fff" fill-opacity="0.068"/><rect x="139.9" y="1165.2" width="89.7" height="1.6" fill="#fff" fill-opacity="0.070"/><rect x="130.2" y="1216.1" width="82.2" height="1.5" fill="#fff" fill-opacity="0.077"/><rect x="176.3" y="1221.7" width="52.2" height="0.7" fill="#fff" fill-opacity="0.039"/><rect x="131.4" y="967.4" width="106.4" height="1.1" fill="#fff" fill-opacity="0.063"/><rect x="131.1" y="681.7" width="51.4" height="1.0" fill="#fff" fill-opacity="0.061"/><rect x="167.9" y="581.0" width="74.3" height="1.5" fill="#000" fill-opacity="0.059"/><rect x="158.1" y="631.1" width="93.1" height="1.6" fill="#fff" fill-opacity="0.077"/><rect x="130.2" y="1090.2" width="119.9" height="2.2" fill="#fff" fill-opacity="0.039"/><rect x="165.5" y="953.7" width="85.7" height="1.1" fill="#fff" fill-opacity="0.035"/><rect x="164.0" y="915.7" width="87.2" height="1.3" fill="#000" fill-opacity="0.049"/><rect x="130.2" y="193.7" width="94.3" height="1.5" fill="#fff" fill-opacity="0.034"/><rect x="130.2" y="715.9" width="68.7" height="1.5" fill="#fff" fill-opacity="0.034"/><rect x="130.2" y="1034.3" width="66.9" height="1.1" fill="#000" fill-opacity="0.055"/><rect x="187.4" y="640.8" width="63.8" height="1.6" fill="#fff" fill-opacity="0.072"/><rect x="142.1" y="721.7" width="109.0" height="1.3" fill="#000" fill-opacity="0.079"/><rect x="130.2" y="1157.7" width="107.2" height="1.9" fill="#000" fill-opacity="0.039"/><rect x="130.2" y="1049.9" width="50.1" height="1.2" fill="#000" fill-opacity="0.047"/><rect x="130.2" y="1025.7" width="95.2" height="1.7" fill="#fff" fill-opacity="0.063"/><rect x="182.9" y="307.2" width="61.9" height="2.4" fill="#000" fill-opacity="0.068"/><rect x="130.2" y="1229.2" width="52.7" height="1.8" fill="#000" fill-opacity="0.068"/><rect x="130.2" y="1019.0" width="94.8" height="2.2" fill="#fff" fill-opacity="0.049"/><rect x="130.2" y="564.1" width="65.0" height="0.7" fill="#000" fill-opacity="0.069"/><rect x="149.3" y="923.3" width="62.0" height="1.6" fill="#000" fill-opacity="0.064"/><rect x="130.2" y="1184.2" width="69.5" height="1.3" fill="#000" fill-opacity="0.061"/><rect x="150.4" y="1205.6" width="86.3" height="2.0" fill="#fff" fill-opacity="0.032"/><rect x="130.2" y="1100.2" width="66.5" height="1.6" fill="#fff" fill-opacity="0.059"/><rect x="134.4" y="446.1" width="74.2" height="1.3" fill="#000" fill-opacity="0.077"/><rect x="154.8" y="865.5" width="82.8" height="1.4" fill="#000" fill-opacity="0.036"/><rect x="130.2" y="647.9" width="94.9" height="1.9" fill="#000" fill-opacity="0.075"/><rect x="130.2" y="456.5" width="62.1" height="1.6" fill="#000" fill-opacity="0.033"/><rect x="130.2" y="350.3" width="101.2" height="1.6" fill="#fff" fill-opacity="0.068"/><rect x="157.8" y="874.1" width="56.1" height="1.9" fill="#fff" fill-opacity="0.078"/><rect x="134.5" y="1127.5" width="98.8" height="0.8" fill="#fff" fill-opacity="0.036"/><rect x="175.2" y="640.2" width="76.0" height="1.7" fill="#000" fill-opacity="0.061"/><rect x="138.0" y="240.9" width="82.8" height="1.9" fill="#fff" fill-opacity="0.034"/><rect x="130.2" y="603.7" width="110.3" height="1.5" fill="#fff" fill-opacity="0.059"/><rect x="137.5" y="524.3" width="64.4" height="2.4" fill="#000" fill-opacity="0.055"/><rect x="183.9" y="624.2" width="67.3" height="1.4" fill="#000" fill-opacity="0.052"/><rect x="157.6" y="577.2" width="93.6" height="1.4" fill="#fff" fill-opacity="0.045"/><rect x="130.2" y="1005.7" width="81.4" height="1.5" fill="#fff" fill-opacity="0.075"/><rect x="130.2" y="1220.1" width="102.2" height="2.0" fill="#fff" fill-opacity="0.066"/><rect x="170.7" y="1192.1" width="80.5" height="1.8" fill="#fff" fill-opacity="0.069"/><rect x="130.2" y="759.7" width="49.6" height="2.4" fill="#fff" fill-opacity="0.068"/><rect x="143.6" y="465.2" width="107.6" height="1.7" fill="#fff" fill-opacity="0.076"/><rect x="130.2" y="254.9" width="76.8" height="1.7" fill="#000" fill-opacity="0.066"/><rect x="165.2" y="994.1" width="86.0" height="2.0" fill="#000" fill-opacity="0.057"/><rect x="177.4" y="1231.4" width="73.8" height="0.9" fill="#000" fill-opacity="0.044"/><rect x="160.2" y="789.2" width="91.0" height="1.6" fill="#000" fill-opacity="0.063"/><rect x="155.6" y="496.5" width="92.4" height="2.1" fill="#fff" fill-opacity="0.056"/><rect x="187.9" y="1235.7" width="63.3" height="1.7" fill="#fff" fill-opacity="0.045"/><rect x="180.3" y="920.6" width="68.3" height="1.9" fill="#fff" fill-opacity="0.057"/><rect x="170.0" y="217.4" width="71.0" height="1.3" fill="#000" fill-opacity="0.077"/><rect x="137.3" y="455.0" width="106.0" height="1.0" fill="#000" fill-opacity="0.043"/><rect x="130.2" y="707.0" width="110.8" height="1.9" fill="#fff" fill-opacity="0.065"/><rect x="183.3" y="928.4" width="67.9" height="1.3" fill="#fff" fill-opacity="0.052"/><rect x="130.2" y="1047.4" width="64.6" height="1.7" fill="#fff" fill-opacity="0.061"/><rect x="150.8" y="350.2" width="79.7" height="2.3" fill="#000" fill-opacity="0.076"/><rect x="130.2" y="904.9" width="64.1" height="1.0" fill="#000" fill-opacity="0.074"/><rect x="130.2" y="430.5" width="51.8" height="1.3" fill="#000" fill-opacity="0.033"/><rect x="165.5" y="1077.7" width="51.6" height="1.6" fill="#fff" fill-opacity="0.079"/><rect x="134.0" y="823.9" width="49.9" height="2.2" fill="#000" fill-opacity="0.039"/><rect x="172.3" y="479.1" width="78.9" height="1.8" fill="#fff" fill-opacity="0.058"/><rect x="145.3" y="566.7" width="67.3" height="1.3" fill="#fff" fill-opacity="0.046"/><rect x="130.2" y="815.4" width="82.5" height="1.2" fill="#000" fill-opacity="0.046"/><rect x="130.2" y="1126.1" width="98.7" height="2.0" fill="#000" fill-opacity="0.051"/><rect x="130.2" y="602.7" width="87.1" height="1.6" fill="#000" fill-opacity="0.075"/><rect x="148.4" y="427.8" width="102.8" height="0.7" fill="#000" fill-opacity="0.044"/><rect x="130.2" y="393.4" width="98.6" height="2.2" fill="#000" fill-opacity="0.053"/><rect x="130.2" y="610.5" width="115.0" height="1.6" fill="#000" fill-opacity="0.034"/><rect x="130.2" y="452.0" width="70.9" height="2.4" fill="#000" fill-opacity="0.056"/><rect x="190.3" y="1234.8" width="59.2" height="0.8" fill="#fff" fill-opacity="0.062"/><rect x="187.0" y="308.5" width="64.2" height="1.7" fill="#000" fill-opacity="0.059"/><rect x="130.2" y="374.4" width="64.1" height="1.5" fill="#fff" fill-opacity="0.057"/><rect x="168.4" y="546.6" width="64.4" height="1.7" fill="#000" fill-opacity="0.041"/><rect x="130.2" y="268.6" width="89.0" height="2.0" fill="#fff" fill-opacity="0.062"/><rect x="130.2" y="468.2" width="52.6" height="2.1" fill="#fff" fill-opacity="0.070"/><rect x="132.0" y="340.0" width="82.8" height="1.0" fill="#000" fill-opacity="0.046"/><rect x="130.2" y="465.1" width="93.1" height="2.1" fill="#000" fill-opacity="0.032"/><rect x="180.0" y="785.0" width="71.2" height="1.4" fill="#fff" fill-opacity="0.055"/><rect x="130.2" y="1211.7" width="97.4" height="1.1" fill="#fff" fill-opacity="0.039"/><rect x="130.2" y="441.8" width="119.5" height="1.2" fill="#000" fill-opacity="0.061"/><rect x="160.1" y="595.4" width="84.1" height="1.9" fill="#fff" fill-opacity="0.057"/><rect x="189.7" y="243.3" width="61.5" height="0.7" fill="#fff" fill-opacity="0.060"/><rect x="160.5" y="1155.2" width="90.7" height="1.0" fill="#000" fill-opacity="0.042"/><rect x="130.2" y="391.7" width="50.8" height="1.9" fill="#fff" fill-opacity="0.053"/><rect x="130.2" y="1080.7" width="100.8" height="1.8" fill="#fff" fill-opacity="0.071"/><rect x="132.5" y="347.6" width="112.1" height="1.0" fill="#fff" fill-opacity="0.034"/><rect x="130.2" y="241.1" width="51.1" height="2.1" fill="#fff" fill-opacity="0.044"/><rect x="130.2" y="393.1" width="60.6" height="0.9" fill="#fff" fill-opacity="0.057"/><rect x="130.2" y="587.4" width="76.6" height="1.0" fill="#fff" fill-opacity="0.032"/><rect x="150.5" y="839.7" width="100.7" height="1.0" fill="#000" fill-opacity="0.050"/><rect x="138.2" y="762.6" width="99.8" height="2.3" fill="#fff" fill-opacity="0.065"/><rect x="147.4" y="1148.4" width="102.9" height="0.8" fill="#000" fill-opacity="0.065"/><rect x="130.2" y="1165.8" width="104.0" height="1.0" fill="#fff" fill-opacity="0.079"/></g></g>
<defs><linearGradient id="stR" x1="0" y1="0" x2="1" y2="0"><stop offset="0" stop-color="#1a1008" stop-opacity="0"/><stop offset="1" stop-color="#1a1008" stop-opacity="0.95"/></linearGradient><linearGradient id="stL" x1="0" y1="0" x2="1" y2="0"><stop offset="0" stop-color="#2a2010" stop-opacity="0.85"/><stop offset="1" stop-color="#2a2010" stop-opacity="0"/></linearGradient><radialGradient id="stC"><stop offset="0" stop-color="#2a1e0c" stop-opacity="0.9"/><stop offset="1" stop-color="#2a1e0c" stop-opacity="0"/></radialGradient></defs>
<rect x="185" y="214.3" width="66.2" height="3" fill="url(#stR)"/>
<rect x="130.2" y="881.2" width="45" height="2.6" fill="url(#stL)"/>
<rect x="225" y="911" width="26.2" height="2" fill="url(#stR)" opacity="0.6"/>
<ellipse cx="203" cy="956.5" rx="26" ry="2.2" fill="url(#stC)"/>
<rect x="130.2" y="1119.5" width="14" height="4.5" fill="url(#stL)" opacity="0.7"/>
<rect x="240" y="1139" width="11.2" height="12" fill="url(#stR)" opacity="0.3"/>
<rect x="1065.5" y="187.5" width="120.6" height="663.8" fill="url(#gR)"/>
<rect x="1065.5" y="187.5" width="120.6" height="663.8" fill="url(#hs)"/>
<clipPath id="clip12"><rect x="1065.5" y="187" width="120.6" height="665"/></clipPath><g clip-path="url(#clip12)"><g filter="url(#soft)"><rect x="1105.7" y="501.7" width="49.0" height="1.8" fill="#fff" fill-opacity="0.044"/><rect x="1065.5" y="723.6" width="96.1" height="1.9" fill="#fff" fill-opacity="0.052"/><rect x="1065.5" y="295.3" width="53.6" height="2.2" fill="#000" fill-opacity="0.047"/><rect x="1066.6" y="455.5" width="114.5" height="2.1" fill="#000" fill-opacity="0.035"/><rect x="1072.3" y="840.5" width="58.0" height="2.3" fill="#fff" fill-opacity="0.061"/><rect x="1068.6" y="296.1" width="107.3" height="1.9" fill="#fff" fill-opacity="0.051"/><rect x="1088.7" y="581.9" width="97.4" height="1.5" fill="#000" fill-opacity="0.079"/><rect x="1065.5" y="626.6" width="97.0" height="1.3" fill="#fff" fill-opacity="0.042"/><rect x="1065.5" y="428.2" width="50.3" height="1.6" fill="#000" fill-opacity="0.052"/><rect x="1091.3" y="531.1" width="94.8" height="1.1" fill="#fff" fill-opacity="0.057"/><rect x="1067.7" y="305.7" width="73.1" height="1.9" fill="#000" fill-opacity="0.033"/><rect x="1082.5" y="491.6" width="103.6" height="1.1" fill="#fff" fill-opacity="0.078"/><rect x="1087.5" y="298.8" width="98.6" height="2.3" fill="#000" fill-opacity="0.030"/><rect x="1086.1" y="365.3" width="48.9" height="2.0" fill="#fff" fill-opacity="0.061"/><rect x="1095.9" y="838.3" width="71.6" height="2.4" fill="#000" fill-opacity="0.072"/><rect x="1097.3" y="610.7" width="88.8" height="1.1" fill="#fff" fill-opacity="0.077"/><rect x="1065.5" y="779.1" width="68.4" height="1.0" fill="#000" fill-opacity="0.056"/><rect x="1078.4" y="648.0" width="66.7" height="1.9" fill="#000" fill-opacity="0.065"/><rect x="1090.8" y="275.1" width="79.7" height="2.2" fill="#000" fill-opacity="0.058"/><rect x="1065.5" y="601.0" width="78.5" height="2.3" fill="#000" fill-opacity="0.075"/><rect x="1086.5" y="709.7" width="99.6" height="1.7" fill="#000" fill-opacity="0.031"/><rect x="1065.5" y="657.4" width="114.1" height="2.2" fill="#000" fill-opacity="0.069"/><rect x="1086.8" y="438.8" width="99.3" height="0.9" fill="#000" fill-opacity="0.057"/><rect x="1065.5" y="599.2" width="76.8" height="0.9" fill="#fff" fill-opacity="0.050"/><rect x="1074.1" y="401.9" width="70.9" height="1.9" fill="#000" fill-opacity="0.068"/><rect x="1087.5" y="623.9" width="83.5" height="2.3" fill="#fff" fill-opacity="0.039"/><rect x="1079.9" y="629.1" width="106.2" height="1.3" fill="#fff" fill-opacity="0.048"/><rect x="1091.6" y="372.9" width="94.5" height="1.0" fill="#000" fill-opacity="0.065"/><rect x="1065.5" y="295.3" width="66.3" height="1.5" fill="#fff" fill-opacity="0.073"/><rect x="1065.5" y="737.7" width="76.8" height="1.1" fill="#000" fill-opacity="0.063"/><rect x="1106.6" y="830.8" width="79.5" height="1.6" fill="#fff" fill-opacity="0.055"/><rect x="1073.7" y="426.5" width="87.6" height="1.2" fill="#fff" fill-opacity="0.032"/><rect x="1065.5" y="719.2" width="76.4" height="1.2" fill="#000" fill-opacity="0.075"/><rect x="1065.5" y="400.2" width="92.3" height="0.9" fill="#000" fill-opacity="0.051"/><rect x="1090.0" y="596.4" width="76.1" height="1.1" fill="#fff" fill-opacity="0.070"/><rect x="1065.5" y="300.3" width="86.1" height="1.0" fill="#fff" fill-opacity="0.072"/><rect x="1065.5" y="765.4" width="70.3" height="2.1" fill="#fff" fill-opacity="0.073"/><rect x="1118.6" y="738.6" width="67.5" height="1.1" fill="#fff" fill-opacity="0.039"/><rect x="1083.4" y="295.9" width="61.6" height="1.9" fill="#fff" fill-opacity="0.073"/><rect x="1065.5" y="589.1" width="80.7" height="0.9" fill="#000" fill-opacity="0.063"/><rect x="1103.8" y="717.3" width="82.3" height="1.6" fill="#fff" fill-opacity="0.051"/><rect x="1065.5" y="529.5" width="83.8" height="1.9" fill="#000" fill-opacity="0.065"/><rect x="1091.2" y="820.1" width="92.2" height="1.9" fill="#000" fill-opacity="0.072"/><rect x="1072.0" y="273.5" width="52.3" height="0.8" fill="#fff" fill-opacity="0.042"/><rect x="1065.5" y="262.8" width="117.7" height="1.9" fill="#000" fill-opacity="0.077"/><rect x="1121.3" y="206.6" width="63.2" height="1.1" fill="#000" fill-opacity="0.051"/><rect x="1080.1" y="547.0" width="92.2" height="1.2" fill="#000" fill-opacity="0.079"/><rect x="1087.3" y="693.8" width="98.8" height="2.3" fill="#000" fill-opacity="0.063"/><rect x="1065.5" y="196.3" width="108.0" height="1.1" fill="#000" fill-opacity="0.047"/><rect x="1125.2" y="440.3" width="60.9" height="2.2" fill="#000" fill-opacity="0.057"/><rect x="1065.5" y="427.1" width="57.4" height="1.1" fill="#000" fill-opacity="0.078"/><rect x="1090.7" y="680.4" width="95.4" height="1.1" fill="#000" fill-opacity="0.039"/><rect x="1100.3" y="550.3" width="70.7" height="1.7" fill="#fff" fill-opacity="0.080"/><rect x="1093.2" y="406.4" width="77.2" height="1.6" fill="#fff" fill-opacity="0.046"/><rect x="1122.1" y="430.7" width="64.0" height="1.3" fill="#000" fill-opacity="0.050"/><rect x="1065.5" y="528.9" width="55.6" height="1.8" fill="#fff" fill-opacity="0.070"/><rect x="1075.8" y="842.1" width="68.7" height="1.8" fill="#000" fill-opacity="0.042"/><rect x="1065.5" y="317.7" width="82.9" height="1.8" fill="#000" fill-opacity="0.053"/><rect x="1093.6" y="807.4" width="92.5" height="1.4" fill="#000" fill-opacity="0.042"/><rect x="1065.5" y="535.7" width="92.8" height="1.9" fill="#000" fill-opacity="0.048"/><rect x="1065.5" y="390.6" width="76.5" height="0.7" fill="#000" fill-opacity="0.075"/><rect x="1090.9" y="288.1" width="67.0" height="2.1" fill="#fff" fill-opacity="0.033"/><rect x="1084.0" y="221.3" width="57.1" height="0.9" fill="#000" fill-opacity="0.049"/><rect x="1121.8" y="512.1" width="64.3" height="1.7" fill="#000" fill-opacity="0.075"/><rect x="1087.6" y="803.9" width="98.5" height="1.6" fill="#000" fill-opacity="0.058"/><rect x="1065.5" y="711.1" width="56.1" height="1.1" fill="#000" fill-opacity="0.039"/><rect x="1104.3" y="741.8" width="49.8" height="2.1" fill="#fff" fill-opacity="0.048"/><rect x="1065.5" y="452.5" width="88.9" height="0.8" fill="#000" fill-opacity="0.075"/><rect x="1116.6" y="551.3" width="69.5" height="1.6" fill="#fff" fill-opacity="0.070"/><rect x="1125.2" y="536.8" width="60.9" height="1.8" fill="#000" fill-opacity="0.067"/><rect x="1065.5" y="534.5" width="95.3" height="2.0" fill="#fff" fill-opacity="0.044"/><rect x="1065.5" y="242.2" width="58.4" height="0.9" fill="#000" fill-opacity="0.037"/><rect x="1065.5" y="826.7" width="110.5" height="1.6" fill="#000" fill-opacity="0.041"/><rect x="1065.5" y="454.1" width="99.0" height="1.8" fill="#000" fill-opacity="0.071"/><rect x="1111.1" y="684.4" width="60.5" height="1.2" fill="#fff" fill-opacity="0.061"/><rect x="1095.1" y="424.6" width="71.8" height="0.9" fill="#000" fill-opacity="0.057"/><rect x="1120.1" y="538.2" width="66.0" height="2.4" fill="#fff" fill-opacity="0.077"/><rect x="1065.5" y="226.1" width="99.4" height="1.2" fill="#fff" fill-opacity="0.036"/><rect x="1076.1" y="822.4" width="107.5" height="0.8" fill="#000" fill-opacity="0.080"/><rect x="1120.5" y="703.1" width="52.0" height="1.4" fill="#000" fill-opacity="0.074"/><rect x="1077.8" y="624.4" width="53.1" height="1.5" fill="#fff" fill-opacity="0.054"/><rect x="1065.5" y="780.4" width="82.1" height="2.3" fill="#000" fill-opacity="0.065"/><rect x="1065.5" y="839.0" width="60.4" height="2.1" fill="#fff" fill-opacity="0.052"/><rect x="1090.3" y="290.0" width="93.4" height="1.0" fill="#fff" fill-opacity="0.079"/><rect x="1091.7" y="640.2" width="62.7" height="1.6" fill="#000" fill-opacity="0.076"/><rect x="1065.5" y="617.7" width="60.3" height="1.8" fill="#fff" fill-opacity="0.059"/><rect x="1109.5" y="300.5" width="76.6" height="1.1" fill="#fff" fill-opacity="0.034"/><rect x="1065.5" y="808.3" width="59.0" height="1.7" fill="#000" fill-opacity="0.055"/><rect x="1065.5" y="789.0" width="66.2" height="0.9" fill="#000" fill-opacity="0.043"/><rect x="1065.5" y="240.3" width="111.8" height="1.0" fill="#000" fill-opacity="0.051"/><rect x="1073.1" y="215.4" width="79.7" height="2.1" fill="#000" fill-opacity="0.039"/><rect x="1065.5" y="229.3" width="58.4" height="2.2" fill="#fff" fill-opacity="0.040"/><rect x="1065.5" y="478.1" width="54.6" height="2.3" fill="#fff" fill-opacity="0.045"/><rect x="1067.0" y="712.8" width="117.7" height="2.3" fill="#fff" fill-opacity="0.034"/><rect x="1065.5" y="363.7" width="56.8" height="2.2" fill="#000" fill-opacity="0.038"/><rect x="1118.5" y="581.3" width="67.6" height="2.0" fill="#fff" fill-opacity="0.077"/><rect x="1071.9" y="792.1" width="98.6" height="2.4" fill="#000" fill-opacity="0.043"/><rect x="1065.7" y="695.8" width="48.8" height="1.5" fill="#fff" fill-opacity="0.077"/><rect x="1120.8" y="637.1" width="65.3" height="2.2" fill="#000" fill-opacity="0.065"/><rect x="1075.0" y="249.2" width="98.0" height="2.2" fill="#000" fill-opacity="0.071"/><rect x="1109.4" y="394.4" width="76.7" height="1.2" fill="#fff" fill-opacity="0.050"/><rect x="1076.0" y="394.8" width="53.0" height="1.9" fill="#fff" fill-opacity="0.061"/><rect x="1093.4" y="841.7" width="70.7" height="0.7" fill="#fff" fill-opacity="0.035"/><rect x="1069.1" y="468.1" width="115.4" height="1.2" fill="#000" fill-opacity="0.079"/><rect x="1079.2" y="726.0" width="106.9" height="2.0" fill="#000" fill-opacity="0.066"/><rect x="1097.8" y="282.9" width="63.5" height="2.0" fill="#000" fill-opacity="0.061"/><rect x="1110.7" y="248.1" width="75.4" height="0.8" fill="#fff" fill-opacity="0.039"/><rect x="1076.7" y="516.7" width="80.4" height="1.4" fill="#fff" fill-opacity="0.033"/><rect x="1065.5" y="501.0" width="99.3" height="0.8" fill="#000" fill-opacity="0.038"/><rect x="1065.5" y="466.8" width="51.2" height="1.4" fill="#000" fill-opacity="0.064"/><rect x="1065.5" y="838.9" width="104.5" height="0.8" fill="#000" fill-opacity="0.062"/><rect x="1065.5" y="506.5" width="77.5" height="2.2" fill="#000" fill-opacity="0.059"/><rect x="1065.5" y="809.5" width="65.1" height="2.0" fill="#fff" fill-opacity="0.056"/><rect x="1074.3" y="668.5" width="93.1" height="0.8" fill="#fff" fill-opacity="0.058"/><rect x="1065.5" y="770.8" width="78.0" height="1.4" fill="#fff" fill-opacity="0.039"/><rect x="1124.9" y="639.2" width="61.2" height="1.3" fill="#000" fill-opacity="0.079"/><rect x="1065.5" y="202.1" width="105.3" height="2.3" fill="#fff" fill-opacity="0.066"/><rect x="1103.3" y="560.1" width="82.8" height="1.5" fill="#000" fill-opacity="0.030"/><rect x="1065.5" y="610.5" width="87.4" height="1.9" fill="#fff" fill-opacity="0.040"/><rect x="1119.8" y="779.9" width="66.3" height="0.8" fill="#000" fill-opacity="0.031"/><rect x="1088.7" y="483.5" width="52.6" height="2.1" fill="#000" fill-opacity="0.035"/><rect x="1065.5" y="630.5" width="97.9" height="1.8" fill="#fff" fill-opacity="0.042"/><rect x="1095.0" y="798.8" width="91.1" height="1.1" fill="#000" fill-opacity="0.068"/><rect x="1065.5" y="602.0" width="79.6" height="1.6" fill="#000" fill-opacity="0.049"/><rect x="1115.6" y="268.7" width="70.5" height="1.4" fill="#fff" fill-opacity="0.041"/><rect x="1065.5" y="363.8" width="72.2" height="1.5" fill="#fff" fill-opacity="0.042"/><rect x="1114.6" y="519.6" width="71.5" height="1.7" fill="#000" fill-opacity="0.056"/><rect x="1074.5" y="615.7" width="111.6" height="1.2" fill="#000" fill-opacity="0.052"/><rect x="1107.0" y="585.8" width="79.1" height="1.5" fill="#fff" fill-opacity="0.060"/><rect x="1102.6" y="599.6" width="83.5" height="2.1" fill="#fff" fill-opacity="0.058"/><rect x="1071.8" y="717.1" width="71.0" height="2.4" fill="#000" fill-opacity="0.050"/><rect x="1065.5" y="789.8" width="97.4" height="2.0" fill="#fff" fill-opacity="0.045"/><rect x="1089.3" y="277.7" width="96.8" height="2.1" fill="#000" fill-opacity="0.037"/><rect x="1065.5" y="645.1" width="103.8" height="1.1" fill="#000" fill-opacity="0.036"/><rect x="1065.5" y="751.0" width="67.7" height="0.9" fill="#fff" fill-opacity="0.064"/><rect x="1065.5" y="615.1" width="100.1" height="1.3" fill="#fff" fill-opacity="0.064"/><rect x="1119.4" y="751.2" width="66.7" height="1.7" fill="#000" fill-opacity="0.043"/><rect x="1065.5" y="271.7" width="62.6" height="1.0" fill="#000" fill-opacity="0.040"/><rect x="1065.5" y="598.8" width="84.8" height="0.7" fill="#000" fill-opacity="0.036"/><rect x="1065.5" y="490.6" width="91.6" height="2.0" fill="#000" fill-opacity="0.067"/><rect x="1114.8" y="389.6" width="71.3" height="2.1" fill="#fff" fill-opacity="0.059"/><rect x="1065.5" y="402.6" width="92.6" height="1.5" fill="#000" fill-opacity="0.056"/><rect x="1104.5" y="494.9" width="73.1" height="1.0" fill="#000" fill-opacity="0.037"/><rect x="1087.6" y="616.5" width="98.5" height="2.0" fill="#000" fill-opacity="0.046"/><rect x="1065.5" y="247.6" width="100.1" height="1.7" fill="#fff" fill-opacity="0.050"/><rect x="1065.5" y="245.3" width="79.1" height="1.1" fill="#000" fill-opacity="0.043"/><rect x="1088.3" y="256.3" width="80.4" height="2.1" fill="#000" fill-opacity="0.041"/><rect x="1065.5" y="258.3" width="59.8" height="1.7" fill="#000" fill-opacity="0.051"/><rect x="1073.6" y="546.3" width="78.9" height="2.2" fill="#000" fill-opacity="0.041"/><rect x="1099.2" y="347.2" width="86.9" height="1.1" fill="#000" fill-opacity="0.066"/><rect x="1065.5" y="456.8" width="117.3" height="2.1" fill="#fff" fill-opacity="0.068"/><rect x="1086.1" y="785.5" width="100.0" height="1.4" fill="#fff" fill-opacity="0.030"/><rect x="1065.5" y="246.9" width="96.3" height="1.6" fill="#fff" fill-opacity="0.077"/><rect x="1065.5" y="764.0" width="97.7" height="2.1" fill="#000" fill-opacity="0.031"/><rect x="1065.5" y="842.4" width="85.2" height="0.7" fill="#fff" fill-opacity="0.055"/><rect x="1067.3" y="396.8" width="95.4" height="1.8" fill="#fff" fill-opacity="0.031"/><rect x="1065.5" y="491.6" width="75.9" height="2.3" fill="#000" fill-opacity="0.056"/><rect x="1114.6" y="723.8" width="71.5" height="1.8" fill="#000" fill-opacity="0.075"/><rect x="1065.5" y="787.9" width="108.0" height="1.3" fill="#000" fill-opacity="0.058"/><rect x="1065.5" y="195.8" width="64.4" height="1.7" fill="#000" fill-opacity="0.038"/><rect x="1100.4" y="404.5" width="85.7" height="2.0" fill="#fff" fill-opacity="0.051"/><rect x="1065.5" y="659.8" width="55.2" height="1.7" fill="#000" fill-opacity="0.043"/><rect x="1065.5" y="584.2" width="84.5" height="1.5" fill="#fff" fill-opacity="0.058"/><rect x="1089.0" y="299.1" width="97.1" height="2.3" fill="#000" fill-opacity="0.080"/><rect x="1065.5" y="656.2" width="93.2" height="1.6" fill="#fff" fill-opacity="0.058"/><rect x="1065.5" y="630.2" width="112.3" height="1.3" fill="#fff" fill-opacity="0.063"/><rect x="1083.4" y="558.9" width="102.7" height="1.3" fill="#fff" fill-opacity="0.047"/><rect x="1065.5" y="356.2" width="54.0" height="1.6" fill="#fff" fill-opacity="0.072"/><rect x="1065.5" y="712.7" width="119.1" height="0.8" fill="#fff" fill-opacity="0.067"/><rect x="1119.6" y="406.7" width="66.5" height="0.8" fill="#fff" fill-opacity="0.073"/><rect x="1110.5" y="502.9" width="50.0" height="2.2" fill="#fff" fill-opacity="0.060"/><rect x="1088.5" y="260.8" width="70.5" height="0.8" fill="#000" fill-opacity="0.041"/><rect x="1087.5" y="710.7" width="98.6" height="1.1" fill="#fff" fill-opacity="0.071"/><rect x="1065.5" y="250.5" width="85.5" height="2.4" fill="#000" fill-opacity="0.064"/><rect x="1120.3" y="284.5" width="65.8" height="1.0" fill="#fff" fill-opacity="0.066"/><rect x="1117.5" y="708.8" width="68.6" height="0.8" fill="#000" fill-opacity="0.043"/><rect x="1112.7" y="402.1" width="65.1" height="1.5" fill="#000" fill-opacity="0.043"/><rect x="1121.3" y="256.4" width="64.8" height="2.3" fill="#000" fill-opacity="0.046"/><rect x="1065.5" y="413.4" width="84.2" height="0.7" fill="#000" fill-opacity="0.052"/><rect x="1073.9" y="367.4" width="98.3" height="1.4" fill="#fff" fill-opacity="0.059"/><rect x="1065.5" y="847.5" width="56.2" height="1.9" fill="#fff" fill-opacity="0.070"/><rect x="1099.3" y="655.5" width="86.8" height="1.8" fill="#000" fill-opacity="0.071"/><rect x="1114.7" y="673.4" width="71.4" height="1.3" fill="#000" fill-opacity="0.078"/><rect x="1065.5" y="599.0" width="70.5" height="1.0" fill="#fff" fill-opacity="0.059"/><rect x="1065.5" y="464.0" width="117.4" height="2.0" fill="#fff" fill-opacity="0.049"/><rect x="1074.2" y="448.3" width="88.0" height="0.9" fill="#fff" fill-opacity="0.062"/><rect x="1065.5" y="435.4" width="80.5" height="1.2" fill="#fff" fill-opacity="0.055"/><rect x="1105.4" y="616.6" width="59.7" height="2.0" fill="#000" fill-opacity="0.057"/><rect x="1065.5" y="527.5" width="70.7" height="0.9" fill="#fff" fill-opacity="0.034"/><rect x="1092.4" y="390.4" width="55.3" height="1.6" fill="#fff" fill-opacity="0.072"/><rect x="1095.2" y="825.6" width="90.9" height="2.2" fill="#000" fill-opacity="0.062"/><rect x="1097.2" y="651.0" width="88.9" height="2.3" fill="#000" fill-opacity="0.041"/><rect x="1113.8" y="442.2" width="72.3" height="2.0" fill="#fff" fill-opacity="0.036"/><rect x="1092.8" y="220.1" width="93.3" height="1.5" fill="#fff" fill-opacity="0.076"/><rect x="1066.9" y="848.0" width="86.9" height="1.3" fill="#fff" fill-opacity="0.069"/><rect x="1065.5" y="458.3" width="103.5" height="1.1" fill="#000" fill-opacity="0.041"/><rect x="1104.5" y="481.0" width="73.6" height="2.0" fill="#000" fill-opacity="0.033"/><rect x="1065.5" y="615.7" width="115.1" height="1.9" fill="#fff" fill-opacity="0.068"/><rect x="1065.5" y="665.8" width="75.4" height="2.0" fill="#fff" fill-opacity="0.075"/><rect x="1084.0" y="363.5" width="69.3" height="1.5" fill="#000" fill-opacity="0.062"/><rect x="1065.5" y="682.1" width="86.2" height="1.0" fill="#000" fill-opacity="0.053"/><rect x="1065.5" y="465.7" width="100.0" height="0.8" fill="#fff" fill-opacity="0.061"/><rect x="1065.5" y="637.6" width="67.3" height="1.2" fill="#000" fill-opacity="0.032"/><rect x="1065.5" y="203.0" width="90.0" height="0.8" fill="#fff" fill-opacity="0.037"/><rect x="1069.5" y="556.5" width="66.9" height="0.9" fill="#000" fill-opacity="0.058"/><rect x="1089.2" y="611.3" width="69.0" height="1.2" fill="#000" fill-opacity="0.063"/><rect x="1065.5" y="410.5" width="86.2" height="1.8" fill="#fff" fill-opacity="0.033"/><rect x="1065.5" y="234.7" width="100.5" height="2.1" fill="#fff" fill-opacity="0.059"/><rect x="1102.9" y="194.1" width="78.1" height="0.8" fill="#fff" fill-opacity="0.073"/><rect x="1106.5" y="420.1" width="79.6" height="1.0" fill="#000" fill-opacity="0.080"/><rect x="1065.5" y="596.8" width="80.0" height="1.0" fill="#000" fill-opacity="0.040"/><rect x="1065.5" y="564.1" width="58.6" height="2.2" fill="#000" fill-opacity="0.032"/><rect x="1065.5" y="349.2" width="107.0" height="0.8" fill="#000" fill-opacity="0.076"/><rect x="1065.5" y="351.4" width="100.5" height="2.3" fill="#fff" fill-opacity="0.044"/><rect x="1065.5" y="476.2" width="96.1" height="1.3" fill="#fff" fill-opacity="0.070"/><rect x="1065.5" y="695.7" width="76.9" height="2.4" fill="#000" fill-opacity="0.040"/><rect x="1099.5" y="354.3" width="86.6" height="1.4" fill="#fff" fill-opacity="0.041"/><rect x="1067.7" y="615.6" width="78.7" height="1.2" fill="#000" fill-opacity="0.033"/><rect x="1122.6" y="775.6" width="63.5" height="0.8" fill="#fff" fill-opacity="0.064"/><rect x="1065.5" y="247.0" width="52.3" height="1.1" fill="#fff" fill-opacity="0.047"/><rect x="1065.5" y="427.0" width="72.3" height="1.9" fill="#fff" fill-opacity="0.033"/><rect x="1117.7" y="232.8" width="64.2" height="2.2" fill="#000" fill-opacity="0.042"/><rect x="1067.0" y="455.8" width="62.7" height="2.2" fill="#fff" fill-opacity="0.077"/><rect x="1116.6" y="821.5" width="69.5" height="2.0" fill="#000" fill-opacity="0.075"/><rect x="1065.5" y="429.0" width="116.8" height="2.1" fill="#000" fill-opacity="0.068"/><rect x="1065.5" y="307.2" width="65.5" height="1.3" fill="#000" fill-opacity="0.067"/><rect x="1071.5" y="643.2" width="62.2" height="1.1" fill="#000" fill-opacity="0.056"/><rect x="1120.7" y="219.1" width="65.4" height="2.3" fill="#000" fill-opacity="0.032"/><rect x="1116.4" y="293.9" width="69.7" height="1.3" fill="#000" fill-opacity="0.061"/><rect x="1108.4" y="480.0" width="67.7" height="1.8" fill="#000" fill-opacity="0.070"/><rect x="1090.8" y="252.3" width="72.0" height="1.8" fill="#fff" fill-opacity="0.071"/><rect x="1065.5" y="557.9" width="76.9" height="1.4" fill="#fff" fill-opacity="0.059"/><rect x="1065.5" y="341.9" width="109.9" height="1.7" fill="#fff" fill-opacity="0.071"/><rect x="1099.4" y="250.2" width="76.7" height="0.9" fill="#fff" fill-opacity="0.068"/><rect x="1079.9" y="700.5" width="106.2" height="2.2" fill="#fff" fill-opacity="0.036"/><rect x="1103.7" y="521.2" width="59.9" height="1.1" fill="#000" fill-opacity="0.075"/><rect x="1095.6" y="288.8" width="90.5" height="1.1" fill="#fff" fill-opacity="0.034"/><rect x="1065.5" y="320.2" width="111.9" height="1.1" fill="#fff" fill-opacity="0.057"/><rect x="1065.5" y="820.6" width="97.3" height="1.5" fill="#fff" fill-opacity="0.071"/><rect x="1079.6" y="351.7" width="106.5" height="0.9" fill="#fff" fill-opacity="0.034"/><rect x="1065.5" y="259.9" width="72.4" height="2.1" fill="#fff" fill-opacity="0.039"/><rect x="1065.5" y="685.1" width="83.5" height="1.6" fill="#fff" fill-opacity="0.072"/><rect x="1065.5" y="771.3" width="74.1" height="1.7" fill="#fff" fill-opacity="0.078"/><rect x="1065.5" y="497.1" width="80.1" height="1.3" fill="#000" fill-opacity="0.080"/><rect x="1122.1" y="529.8" width="64.0" height="1.6" fill="#fff" fill-opacity="0.046"/><rect x="1065.5" y="705.2" width="115.3" height="0.8" fill="#000" fill-opacity="0.060"/><rect x="1065.5" y="453.6" width="71.4" height="0.9" fill="#fff" fill-opacity="0.078"/><rect x="1065.5" y="406.0" width="106.9" height="1.0" fill="#fff" fill-opacity="0.064"/><rect x="1065.5" y="583.8" width="55.7" height="1.8" fill="#fff" fill-opacity="0.060"/><rect x="1065.5" y="784.7" width="96.6" height="1.9" fill="#000" fill-opacity="0.079"/><rect x="1082.9" y="741.4" width="87.8" height="1.0" fill="#fff" fill-opacity="0.075"/><rect x="1125.1" y="612.4" width="61.0" height="2.3" fill="#000" fill-opacity="0.035"/><rect x="1105.6" y="439.7" width="80.5" height="1.0" fill="#000" fill-opacity="0.074"/><rect x="1125.4" y="393.4" width="60.7" height="1.8" fill="#000" fill-opacity="0.059"/><rect x="1073.4" y="195.4" width="111.8" height="1.7" fill="#000" fill-opacity="0.050"/><rect x="1068.5" y="806.2" width="83.6" height="1.1" fill="#fff" fill-opacity="0.063"/><rect x="1115.8" y="828.9" width="70.3" height="1.5" fill="#fff" fill-opacity="0.073"/><rect x="1089.0" y="547.4" width="97.1" height="1.3" fill="#fff" fill-opacity="0.037"/><rect x="1082.3" y="372.2" width="88.1" height="1.3" fill="#000" fill-opacity="0.030"/><rect x="1065.5" y="642.7" width="69.5" height="1.0" fill="#000" fill-opacity="0.034"/></g></g>
<path d="M1161.5 187 C1164 190 1166 193 1169 195.5 C1172 198 1178 199.5 1187 199.5 V187 Z" fill="#fdfdfd"/>
<path d="M1187 237.5 C1180 237.5 1175 239 1174.5 243 C1175 247.5 1180 249.5 1187 249.5 Z" fill="#fdfdfd"/>
<path d="M1187 342 C1182 342 1178 343 1177.8 346 C1178 349 1182 351.5 1187 352 Z" fill="#fdfdfd"/>
<path d="M1187 468.8 C1180 468.5 1173.5 470 1172.4 473.5 C1173.5 477.5 1180 479.5 1187 479.5 Z" fill="#fdfdfd"/>
<path d="M1187 596.6 C1180 596.5 1171.5 597 1170.3 599.5 C1170.5 604 1175 607.5 1182 608.4 L1187 608.4 Z" fill="#fdfdfd"/>
<path d="M1187 724.7 C1178 724.5 1165 725 1163.5 727 C1164 731 1168 735 1174 737 L1187 737 Z" fill="#fdfdfd"/>
<path d="M1168 191 q5 2 12 1 M1180 243 q3 1 6 0 M1176 474 q4 1 9 0 M1175 601 q4 1 9 0 M1171 730 q5 1 12 0" stroke="#aaa" stroke-width="1" fill="none" opacity="0.7"/>
<rect x="277.6" y="189.6" width="116.9" height="1058.4" fill="#948a54"/>
<rect x="277.6" y="189.6" width="116.9" height="107" fill="#996633"/>
<rect x="277.6" y="296.6" width="116.9" height="63.4" fill="#767171"/>
<rect x="277.6" y="514" width="116.9" height="59.5" fill="#767171"/>
<rect x="277.6" y="965.6" width="116.9" height="9.5" fill="#767171"/>
<rect x="277.6" y="1210.6" width="116.9" height="13.5" fill="#767171"/>
<rect x="277.6" y="613.2" width="115.4" height="7.6" fill="#3d3d42"/>
<rect x="392.9" y="296.6" width="1.6" height="10.4" fill="#996633"/>
<rect x="277.6" y="296.6" width="115.3" height="4" fill="#3c4044"/>
<rect x="277.6" y="300.6" width="115.3" height="2.3" fill="#1e1e1e"/>
<rect x="277.6" y="302.9" width="115.3" height="2.1" fill="#6a6a6a"/>
<rect x="277.6" y="305" width="115.3" height="1.8" fill="#0a0a0a"/>
<rect x="277.6" y="375" width="115.4" height="13.6" fill="url(#lamg)"/>
<rect x="277.6" y="419.5" width="115.4" height="12.7" fill="url(#lamg)"/>
<rect x="277.6" y="535.2" width="115.4" height="14.6" fill="url(#lamg)"/>
<rect x="277.6" y="725.2" width="115.4" height="11.9" fill="url(#lamg)"/>
<rect x="277.6" y="768" width="115.4" height="14.7" fill="url(#lamg)"/>
<rect x="277.6" y="983.8" width="115.4" height="11.2" fill="#000"/>
<rect x="277.6" y="986.2" width="115.4" height="3" fill="#3e3e42"/>
<rect x="277.6" y="990.8" width="115.4" height="1.8" fill="#6a6a6a"/>
<rect x="277.6" y="1021.9" width="115.4" height="8.7" fill="#000"/>
<rect x="277.6" y="1023.5" width="115.4" height="3.2" fill="#444448"/>
<rect x="277.6" y="1027.6" width="115.4" height="1" fill="#6a6a6a"/>
<polyline points="278.2,564.8 286.6,556 305.7,564.8 316.8,556 335,564.8 344.5,556 363.5,564.8 374.6,556 392.9,564.8" fill="none" stroke="#111" stroke-width="2"/>
<path d="M298.0 335.5V350.3H314.0ZM318.7 335.5V350.3H334.7ZM339.4 335.5V350.3H355.4ZM360.1 335.5V350.3H376.1Z" fill="none" stroke="#0a0a0a" stroke-width="2.5" stroke-linejoin="miter"/>
<path d="M299.0 450.0V465.3H315.0ZM319.7 450.0V465.3H335.7ZM340.4 450.0V465.3H356.4ZM361.1 450.0V465.3H377.1Z" fill="none" stroke="#0a0a0a" stroke-width="2.5" stroke-linejoin="miter"/>
<path d="M299.5 923.0V937.3H315.5ZM320.2 923.0V937.3H336.2ZM340.9 923.0V937.3H356.9ZM361.6 923.0V937.3H377.6Z" fill="none" stroke="#0a0a0a" stroke-width="2.5" stroke-linejoin="miter"/>
<path d="M299.5 947.5V961.8H315.5ZM320.2 947.5V961.8H336.2ZM340.9 947.5V961.8H356.9ZM361.6 947.5V961.8H377.6Z" fill="none" stroke="#0a0a0a" stroke-width="2.5" stroke-linejoin="miter"/>
<path d="M299.5 1006.0V1018.3H315.5ZM320.2 1006.0V1018.3H336.2ZM340.9 1006.0V1018.3H356.9ZM361.6 1006.0V1018.3H377.6Z" fill="none" stroke="#0a0a0a" stroke-width="2.5" stroke-linejoin="miter"/>
<path d="M299.5 1032.5V1043.8H315.5ZM320.2 1032.5V1043.8H336.2ZM340.9 1032.5V1043.8H356.9ZM361.6 1032.5V1043.8H377.6Z" fill="none" stroke="#0a0a0a" stroke-width="2.5" stroke-linejoin="miter"/>
<path d="M300.5 1116.0V1132.5H316.5ZM321.2 1116.0V1132.5H337.2ZM341.9 1116.0V1132.5H357.9ZM362.6 1116.0V1132.5H378.6Z" fill="none" stroke="#0a0a0a" stroke-width="2.5" stroke-linejoin="miter"/>
<g fill="#48484c"><ellipse cx="302.4" cy="998.6" rx="4.6" ry="7"/><ellipse cx="312.6" cy="1002.5" rx="2.3" ry="2.4"/><ellipse cx="323.2" cy="998.6" rx="5.4" ry="7"/><ellipse cx="348" cy="1001" rx="4.9" ry="5.7"/><ellipse cx="358.5" cy="1003.8" rx="2.4" ry="2.4"/><ellipse cx="369.1" cy="1002.5" rx="5.4" ry="6.2"/></g>
<g fill="#48484c"><ellipse cx="304.2" cy="1184.6" rx="4.8" ry="5.8"/><ellipse cx="314.1" cy="1188.2" rx="2.5" ry="2.5"/><ellipse cx="323.2" cy="1185.5" rx="5.7" ry="6.8"/><ellipse cx="346.4" cy="1185.4" rx="4.9" ry="6.6"/><ellipse cx="356.2" cy="1188.5" rx="2.6" ry="3.6"/><ellipse cx="366" cy="1187.7" rx="4.8" ry="7"/></g>
<rect x="1206.9" y="187.5" width="112.8" height="664" fill="#948a54"/>
<rect x="1206.9" y="187.5" width="112.8" height="51.2" fill="#996633"/>
<rect x="1206.9" y="280.8" width="112" height="7.8" fill="#3d3d40"/>
<rect x="1206.9" y="286.6" width="112" height="2" fill="#1a1a1a"/>
<rect x="1206.9" y="292.7" width="112" height="29.4" fill="#585858"/>
<rect x="1206.9" y="317.5" width="112" height="4.6" fill="#3a3a3c"/>
<rect x="1208.4" y="322.1" width="110.5" height="1.7" fill="#7a7a7a"/>
<rect x="1208.4" y="323.8" width="110.5" height="2.6" fill="#111"/>
<rect x="1206.9" y="422" width="112" height="6" fill="#555a5a"/>
<rect x="1206.9" y="522.8" width="112" height="22.3" fill="#555557"/>
<rect x="1206.9" y="759.5" width="111.3" height="29" fill="#000"/>
<rect x="1206.9" y="767.6" width="111.3" height="6.2" fill="#6a6a6e"/>
<rect x="1206.9" y="781.4" width="111.3" height="6.2" fill="#6a6a6e"/>
<path d="M1225.0 767.0V774.5H1241.0ZM1245.4 767.0V774.5H1261.4ZM1265.8 767.0V774.5H1281.8ZM1286.2 767.0V774.5H1302.2Z" fill="none" stroke="#0a0a0a" stroke-width="1.6" stroke-linejoin="miter"/>
<path d="M1225.0 780.5V788.0H1241.0ZM1245.4 780.5V788.0H1261.4ZM1265.8 780.5V788.0H1281.8ZM1286.2 780.5V788.0H1302.2Z" fill="none" stroke="#0a0a0a" stroke-width="1.6" stroke-linejoin="miter"/>
<path d="M1225.0 349.5V358.8H1241.5ZM1245.4 349.5V358.8H1261.9ZM1265.8 349.5V358.8H1282.3ZM1286.2 349.5V358.8H1302.7Z" fill="none" stroke="#0a0a0a" stroke-width="2.6" stroke-linejoin="miter"/>
<polygon points="449,243.8 460.8,244.6 505,245.9 476,247.4 451,248.6" fill="#d98b8e"/>
<polygon points="486,712.3 528,714.9 486,716.7" fill="#d98b8e"/>
<polyline points="441.7,200.8 444.3,205.2 436.6,209.0 440.5,214.1 436.6,217.9 429.7,223.6 430.1,225.6 444.0,228.2 454.8,230.1 463.0,232.0 455.4,232.6 445.3,235.8 445.0,239.3 445.9,242.8 453.5,244.0 475.7,244.7 526.8,246.3 475.7,247.6 447.8,249.7 470.7,254.2 444.0,256.1 461.8,259.9 449.1,261.8 444.0,264.3 447.8,266.9 442.1,268.1 455.4,270.0 452.3,273.2 442.1,275.7 451.6,279.5 469.4,282.7 445.9,284.6 453.5,287.8 442.8,289.7 473.8,292.9 459.9,295.4 458.0,298.6 437.7,301.1 434.5,304.3 439.8,308.4 444.3,312.5 437.9,315.6 431.5,319.8 425.9,323.9 430.3,325.8 431.5,329.2 431.3,332.6 432.2,336.0 431.5,339.5 431.6,343.0 433.2,346.5 434.1,350.0 434.1,351.4 432.0,355.2 430.9,359.0 432.8,362.2 432.8,366.4 431.6,370.5 432.1,374.3 431.5,378.1 432.2,381.9 430.8,386.4 430.3,390.8 432.0,394.0 432.8,397.1 432.0,400.9 432.4,404.7 431.6,408.5 432.2,412.3 433.5,416.1 433.3,419.5 431.9,422.9 431.6,426.3 432.4,430.8 434.1,435.2 438.6,439.3 442.4,443.4 437.3,446.0 425.2,447.6 437.3,448.1 437.3,451.2 435.8,454.4 436.2,457.5 435.6,460.6 435.1,463.8 434.1,466.9 433.9,470.1 434.2,473.2 435.6,476.4 435.4,479.6 435.0,483.1 435.8,486.5 435.4,490.0 434.8,493.2 435.6,496.4 434.4,499.5 434.7,502.7 435.9,505.9 435.6,509.0 437.0,512.2 437.3,515.4 436.1,518.6 435.5,521.8 435.7,524.9 434.7,528.1 434.0,531.3 434.9,534.5 434.6,537.6 434.1,540.8 433.0,544.0 433.6,547.1 432.2,550.3 432.2,553.5 432.2,556.6 433.4,559.8 433.7,563.0 433.5,566.1 430.2,569.2 425.9,572.2 433.5,574.4 432.3,577.7 432.5,581.0 430.7,584.4 430.3,587.7 432.2,591.2 432.7,594.7 435.1,598.2 436.0,601.7 435.8,604.7 436.9,607.8 436.3,610.8 436.5,613.9 437.3,616.9 438.1,620.7 437.9,624.5 438.3,629.0 439.8,633.4 437.3,637.5 434.1,641.6 440.5,646.3 439.8,649.5 439.8,652.7 437.6,656.5 434.7,660.3 425.9,663.2 435.4,664.1 434.9,667.5 435.7,670.9 434.9,674.2 435.8,677.6 435.0,681.0 435.4,684.4 437.1,687.6 437.5,690.8 439.6,693.9 440.5,697.1 444.3,702.2 460.8,706.0 477.3,709.5 493.8,713.0 555.9,715.5 493.8,716.1 460.8,718.0 437.3,722.5 437.2,726.0 438.6,729.5 438.2,732.9 439.2,736.4 443.3,739.6 446.8,742.8 444.3,747.9 447.6,751.0 451.9,754.2 447.3,758.7 441.7,763.1 437.7,766.2 434.7,769.4 435.1,772.8 433.8,776.2 434.1,779.6 430.5,783.4 425.9,787.2 434.1,788.5 437.3,792.3 439.0,795.8 441.7,799.3 442.4,801.0 440.5,805.2 441.6,808.6 441.4,812.0 442.4,815.4 444.7,819.5 448.1,823.6 460.8,827.4 483.6,829.3 467.1,831.9 453.1,835.1 451.9,839.5 446.8,842.0 449.3,845.8 441.1,849.6 445.5,852.2 457.6,854.7 444.3,858.5 443.5,861.6 441.0,864.6 440.6,867.7 438.5,870.8 437.1,873.8 436.0,876.9 437.7,880.3 441.0,883.7 443.0,887.1 441.7,890.6 439.2,894.1 439.7,897.9 441.1,901.7 439.6,905.2 437.3,908.7 425.9,911.6 437.3,912.8 436.7,916.2 437.4,919.5 436.4,922.9 437.2,926.2 436.6,929.6 441.7,932.8 437.3,935.9 435.8,939.4 435.1,942.9 434.8,946.4 433.5,949.9 434.4,952.9 433.9,956.0 434.7,959.0 433.8,962.6 432.2,966.2 430.3,969.8 434.1,973.0 431.8,977.5 428.4,981.9 428.1,984.9 429.4,988.0 428.8,991.0 429.1,994.1 429.7,997.1 435.4,999.6 436.0,1003.1 436.1,1006.6 435.5,1010.1 436.0,1013.6 429.7,1017.4 430.5,1020.8 431.7,1024.2 433.5,1027.6 430.5,1031.4 426.5,1035.2 430.3,1036.4 428.7,1040.8 427.8,1045.3 430.6,1049.1 432.2,1052.9 431.9,1056.7 433.1,1060.6 432.8,1064.4 431.9,1067.4 432.2,1070.5 430.9,1073.5 430.3,1076.6 430.3,1079.6 437.3,1085.3 434.1,1089.7 433.5,1092.8 434.4,1095.9 434.0,1099.0 433.3,1102.1 433.5,1105.2 436.0,1109.7 432.2,1115.4 432.5,1119.2 431.6,1123.0 436.6,1125.5 431.6,1128.1 430.3,1133.1 430.2,1136.5 430.5,1139.9 431.6,1143.3 431.0,1146.7 432.5,1150.1 432.2,1153.5 425.9,1159.2 432.2,1161.1 430.7,1165.5 430.3,1170.0 432.5,1174.4 435.4,1178.8 435.0,1182.2 433.2,1185.6 432.8,1189.0 430.3,1192.2 436.6,1197.9 434.7,1202.3 432.2,1206.8 432.5,1210.1 431.5,1213.4 432.2,1216.6 432.3,1219.9 431.6,1223.2 431.1,1226.4 429.5,1229.6 428.7,1232.7 428.4,1235.9 428.6,1239.8 427.8,1243.6" fill="none" stroke="#b0141c" stroke-width="2.1" stroke-linejoin="round" stroke-linecap="round" />
<polyline points="430.1,225.6 444.0,228.2 454.8,230.1 463.0,232.0 455.4,232.6 445.3,235.8 445.0,239.3 445.9,242.8 453.5,244.0" fill="none" stroke="#b0141c" stroke-width="2.7" stroke-linejoin="round" stroke-linecap="round" />
<polyline points="447.8,249.7 470.7,254.2 444.0,256.1 461.8,259.9 449.1,261.8 444.0,264.3 447.8,266.9 442.1,268.1 455.4,270.0 452.3,273.2 442.1,275.7 451.6,279.5 469.4,282.7 445.9,284.6 453.5,287.8 442.8,289.7 473.8,292.9 459.9,295.4 458.0,298.6 437.7,301.1" fill="none" stroke="#b0141c" stroke-width="2.8" stroke-linejoin="round" stroke-linecap="round" />
<polygon points="449,244.5 475.7,245.2 500,246.1 475.7,247 449,248.6" fill="#d98b8e"/>
<polyline points="1367.1,191.4 1369.0,195.4 1370.0,199.3 1371.8,202.9 1374.3,206.4 1382.1,209.3 1370.7,213.5 1372.8,219.3 1385.7,224.3 1425.6,227.8 1488.4,230.0 1425.6,231.4 1368.5,233.5 1360.0,235.7 1356.7,238.9 1354.3,242.1 1361.4,245.0 1374.3,247.8 1382.1,249.9 1370.7,254.9 1377.1,260.6 1390.0,264.9 1411.4,267.5 1487.0,269.9 1411.4,271.4 1361.4,274.2 1359.6,278.1 1357.1,282.1 1356.8,285.5 1357.7,288.9 1357.1,292.4 1358.2,295.8 1357.8,299.2 1358.3,302.4 1357.6,305.5 1358.4,308.7 1357.8,311.9 1358.7,315.0 1357.9,318.2 1358.7,321.4 1358.2,324.5 1358.6,327.7 1358.7,331.3 1357.8,334.9 1357.6,338.2 1357.5,341.5 1358.5,344.9 1357.7,348.2 1358.7,351.5 1358.7,354.8 1358.0,358.2 1358.9,361.5 1358.6,364.8 1358.6,369.3 1359.0,373.1 1360.9,376.9 1361.4,380.7 1357.4,383.9 1354.3,387.1 1360.7,387.6 1361.7,391.0 1364.1,394.4 1365.0,397.8 1364.1,401.4 1364.3,405.0 1363.0,408.5 1362.8,412.1 1361.4,415.3 1360.3,418.5 1359.2,421.7 1358.6,424.9 1362.8,427.8 1361.1,432.1 1358.6,436.4 1359.6,440.2 1361.7,444.0 1362.8,447.8 1362.0,451.4 1362.1,454.9 1365.0,458.2 1367.8,461.6 1370.0,464.9 1368.5,468.1 1366.1,471.4 1365.0,474.6 1362.8,477.8 1367.1,480.6 1367.3,484.1 1368.5,487.7 1374.3,492.7 1404.2,495.6 1492.7,497.7 1411.4,499.2 1391.4,502.8 1371.4,506.3 1366.4,509.2 1369.3,512.7 1362.1,516.3 1362.5,520.6 1362.1,525.0 1362.3,528.6 1361.3,532.1 1362.0,535.7 1361.4,539.3 1361.4,542.8 1362.5,546.4 1362.0,550.0 1362.8,553.5 1362.7,556.9 1361.3,560.3 1360.8,563.8 1361.0,567.2 1360.0,570.6 1359.3,574.2 1358.9,577.8 1359.2,581.3 1358.5,584.9 1359.5,588.7 1361.7,592.5 1362.8,596.3 1362.6,599.9 1363.6,603.5 1363.8,607.0 1363.5,610.6 1363.8,614.2 1362.8,617.8 1363.3,621.3 1362.8,624.9 1363.3,628.1 1364.3,631.3 1365.9,634.5 1366.4,637.7 1354.3,642.0 1370.7,646.3 1367.7,649.6 1365.1,652.9 1362.8,656.2 1363.9,660.0 1363.9,663.9 1365.0,667.7 1365.7,671.2 1365.7,674.8 1368.7,678.6 1372.8,682.4 1375.7,686.2 1365.7,690.5 1363.8,693.7 1362.3,696.8 1361.4,700.0 1362.3,703.4 1362.0,706.8 1363.4,710.1 1363.5,713.5 1362.4,716.7 1362.5,720.0 1361.1,723.2 1360.7,726.4 1360.5,730.0 1359.3,733.5 1359.4,737.0 1358.5,740.6 1357.5,743.9 1357.5,747.3 1356.4,750.6 1358.5,754.2 1361.4,757.8 1360.4,761.3 1358.5,764.9 1356.8,768.1 1354.3,771.3 1358.5,774.9 1357.0,778.5 1356.4,782.0 1358.9,785.6 1360.7,789.2 1359.2,793.5 1358.5,797.7 1359.0,800.8 1359.2,804.0 1358.5,807.1 1359.5,810.3 1359.3,813.4 1356.4,819.1 1359.6,822.4 1361.7,825.8 1365.0,829.1 1360.0,834.8 1362.8,840.5 1372.1,844.8" fill="none" stroke="#b3141c" stroke-width="1.3" stroke-linejoin="round" stroke-linecap="round" />
<line x1="90" y1="271" x2="571" y2="272.1" stroke="#fad35c" stroke-width="3.8" stroke-dasharray="12.2 3.9"/>
<line x1="566" y1="272.1" x2="924.7" y2="272.1" stroke="#fad35c" stroke-width="3.7" stroke-dasharray="9.3 3.9"/>
<line x1="80" y1="368.5" x2="571" y2="370.2" stroke="#fad35c" stroke-width="3.8" stroke-dasharray="12.2 3.9"/>
<line x1="566" y1="370.2" x2="931.8" y2="370.2" stroke="#fad35c" stroke-width="3.7" stroke-dasharray="9.3 3.9"/>
<line x1="77.7" y1="511.8" x2="571" y2="514" stroke="#fad35c" stroke-width="3.8" stroke-dasharray="12.2 3.9"/>
<line x1="566" y1="514" x2="930.6" y2="514" stroke="#fad35c" stroke-width="3.7" stroke-dasharray="9.3 3.9"/>
<line x1="71.9" y1="623.4" x2="571" y2="625" stroke="#fad35c" stroke-width="3.8" stroke-dasharray="12.2 3.9"/>
<line x1="566" y1="625" x2="925" y2="625" stroke="#fad35c" stroke-width="3.7" stroke-dasharray="9.3 3.9"/>
<line x1="65.8" y1="942" x2="571" y2="943.6" stroke="#fad35c" stroke-width="3.8" stroke-dasharray="12.2 3.9"/>
<line x1="566" y1="943.6" x2="935.4" y2="943.6" stroke="#fad35c" stroke-width="3.7" stroke-dasharray="9.3 3.9"/>
<line x1="1073.3" y1="269" x2="1521" y2="269.55" stroke="#fad35c" stroke-width="3.8" stroke-dasharray="12.3 4.2"/>
<line x1="1516" y1="269.55" x2="1890" y2="270" stroke="#fad35c" stroke-width="3.7" stroke-dasharray="9.3 3.9"/>
<line x1="1079" y1="336.4" x2="1521" y2="337.225" stroke="#fad35c" stroke-width="3.8" stroke-dasharray="12.3 4.2"/>
<line x1="1516" y1="337.225" x2="1886.5" y2="337.9" stroke="#fad35c" stroke-width="3.7" stroke-dasharray="9.3 3.9"/>
<line x1="1073.3" y1="485.9" x2="1521" y2="486.285" stroke="#fad35c" stroke-width="3.8" stroke-dasharray="12.3 4.2"/>
<line x1="1516" y1="486.285" x2="1890" y2="486.6" stroke="#fad35c" stroke-width="3.7" stroke-dasharray="9.3 3.9"/>
<line x1="1073.3" y1="522" x2="1521" y2="521.23" stroke="#fad35c" stroke-width="3.8" stroke-dasharray="12.3 4.2"/>
<line x1="1516" y1="521.23" x2="1890" y2="520.6" stroke="#fad35c" stroke-width="3.7" stroke-dasharray="9.3 3.9"/>
<line x1="1070.5" y1="674.8" x2="1521" y2="675.24" stroke="#fad35c" stroke-width="3.8" stroke-dasharray="12.3 4.2"/>
<line x1="1516" y1="675.24" x2="1890" y2="675.6" stroke="#fad35c" stroke-width="3.7" stroke-dasharray="9.3 3.9"/>
<polyline points="730.0,190.8 727.9,192.6 732.2,194.4 729.0,196.1 732.8,197.9 728.6,199.7 728.1,201.4 728.1,203.2 730.0,205.0 731.7,206.9 728.2,208.9 734.2,210.8 731.2,212.7 735.0,214.7 733.3,216.6 733.4,218.6 733.4,220.6 739.2,222.6 734.3,224.6 738.3,226.6 741.6,228.6 736.4,230.5 738.9,232.4 741.8,234.4 742.9,236.4 741.6,238.3 740.3,240.4 743.7,242.4 740.0,244.5 742.4,246.6 745.0,248.5 738.6,250.5 738.0,252.4 742.0,254.3 743.5,256.3 740.0,258.2 743.0,260.3 740.3,262.4 740.3,264.5 743.3,266.6 745.9,269.1 746.6,271.6 749.4,273.7 743.1,275.8 746.6,277.9 745.0,280.0 734.1,281.5 748.3,283.2 756.6,286.5 767.4,289.0 756.6,292.4 752.7,294.4 754.1,296.5 752.9,298.7 754.5,301.0 753.3,303.2 741.6,304.0 736.6,306.9 743.3,309.0 750.0,311.1 756.6,313.2 758.3,315.7 763.2,318.2 760.5,320.3 767.2,322.4 763.5,324.4 764.9,326.5 779.9,327.8 768.2,329.8 779.0,331.9 789.9,334.0 768.2,334.8 764.9,337.3 759.9,339.8 768.2,341.5 760.8,344.0 753.3,346.5 752.3,348.6 756.1,350.6 752.9,352.7 756.6,354.8 760.1,356.9 759.2,359.0 755.8,361.0 758.3,363.1 760.0,365.3 754.9,367.6 756.6,369.8 744.9,373.1 744.5,375.3 750.8,377.6 749.9,379.8 748.7,381.7 748.4,383.5 751.6,385.4 748.8,387.3 753.6,389.1 750.6,391.0 753.8,392.9 750.5,394.7 752.4,396.6 755.1,398.5 751.7,400.3 755.8,402.2 750.9,404.0 754.5,405.9 751.4,407.7 755.3,409.6 751.5,411.4 753.3,413.3 754.3,415.2 750.9,417.0 754.9,418.9 755.0,420.7 751.9,422.6 754.9,424.4 752.3,426.3 752.2,428.1 754.1,430.0 753.4,431.8 757.4,433.7 757.4,435.5 754.9,437.4 757.7,439.2 759.7,441.1 755.9,442.9 755.5,444.8 758.3,446.6 765.7,447.4 763.2,449.2 765.6,450.9 761.8,452.7 764.2,454.4 759.8,456.2 759.6,457.9 763.0,459.7 762.3,461.4 758.3,463.2 754.1,465.1 754.7,466.9 757.8,468.8 751.8,470.6 754.4,472.5 750.7,474.3 752.0,476.2 750.3,478.0 748.3,479.9 753.5,482.1 756.8,484.3 756.6,486.5 768.2,488.2 767.5,490.3 759.8,492.4 761.0,494.4 756.6,496.5 754.5,498.4 759.7,500.2 755.0,502.1 759.5,503.9 753.9,505.8 757.9,507.6 753.8,509.5 759.3,511.3 756.6,513.2 759.3,515.2 757.4,517.2 753.7,519.2 758.1,521.2 756.6,523.2 752.9,525.2 755.2,527.1 750.8,529.1 751.1,531.0 748.3,533.0 733.3,534.0 748.3,535.0 748.4,537.0 747.5,539.0 753.4,541.1 752.4,543.1 771.6,544.8 772.8,546.7 779.5,548.7 779.9,550.6 761.6,553.1 757.2,555.3 757.7,557.6 753.3,559.8 751.7,561.7 756.1,563.7 753.7,565.6 757.8,567.5 754.3,569.5 756.6,571.4 755.1,573.5 759.9,575.6 756.6,577.7 759.9,579.8 762.9,581.5 759.6,583.3 761.6,585.0 760.3,587.1 752.3,589.1 753.3,591.2 746.6,593.3 748.4,595.2 749.6,597.2 745.1,599.1 749.9,601.1 744.3,603.0 747.4,605.0 750.9,607.1 747.3,609.1 752.8,611.2 751.6,613.3 750.5,615.2 752.5,617.1 750.6,619.0 750.4,620.9 754.4,622.8 748.8,624.7 751.6,626.6 755.0,628.5 754.9,630.5 752.4,632.5 755.8,634.4 753.3,636.3 754.9,638.3 758.7,640.2 754.8,642.1 759.8,644.0 756.5,645.9 760.7,647.8 757.4,649.7 759.9,651.6 762.8,653.8 760.3,656.0 763.2,658.2 761.9,660.4 758.4,662.7 753.3,664.9 749.3,667.1 750.3,669.4 744.9,671.6 742.9,673.5 747.2,675.5 746.1,677.4 742.3,679.3 742.9,681.3 744.9,683.2 751.3,685.4 751.3,687.7 756.6,689.9 762.1,692.1 761.9,694.3 766.6,696.5 766.4,698.7 757.4,701.0 756.6,703.2 757.1,705.2 750.5,707.2 750.4,709.2 745.5,711.2 744.9,713.2 747.8,715.3 744.7,717.4 751.8,719.4 749.9,721.5 748.5,723.6 754.4,725.6 754.6,727.7 753.3,729.8 749.4,731.8 748.9,733.8 752.4,735.8 746.6,737.8 746.6,739.8 748.3,741.8 741.8,743.7 742.7,745.6 744.7,747.6 739.9,749.5 741.6,751.5 738.9,753.4 745.0,755.4 740.6,757.3 743.7,759.2 740.2,761.2 743.3,763.1 747.0,765.2 745.0,767.2 751.1,769.3 751.6,771.4 750.9,773.5 756.3,775.6 757.1,777.7 756.6,779.8 764.9,782.3 760.5,784.1 758.3,786.0 759.8,788.0 756.6,790.0 752.6,792.2 753.4,794.4 753.3,796.6 760.0,799.1 766.6,801.6 761.2,803.6 761.9,805.6 753.2,807.6 754.7,809.6 748.3,811.6 745.8,813.4 746.2,815.3 749.9,817.1 747.3,819.0 751.5,820.8 748.0,822.6 751.7,824.5 746.6,826.3 750.8,828.2 749.9,830.0 751.2,831.8 747.7,833.7 752.6,835.5 748.8,837.4 752.1,839.2 748.5,841.1 753.3,842.9 749.7,844.8 751.6,846.6 752.9,848.7 751.7,850.8 748.9,852.8 749.9,854.9 751.3,856.8 747.6,858.6 751.7,860.5 746.0,862.3 750.0,864.2 747.2,866.0 750.5,867.9 746.4,869.7 747.4,871.6 750.1,873.4 750.2,875.3 746.5,877.1 749.1,879.0 745.7,880.8 749.4,882.7 747.2,884.5 745.3,886.4 748.3,888.2 748.2,890.1 753.8,892.0 750.1,893.9 756.4,895.8 758.5,897.7 755.7,899.6 759.9,901.5 763.4,904.0 761.6,906.5 756.3,908.7 756.8,911.0 751.6,913.2 750.0,915.3 754.5,917.4 751.0,919.4 753.3,921.5 781.6,924.0 789.9,926.5 754.9,929.0 760.5,931.1 759.9,933.2 779.9,936.5 779.4,938.4 774.3,940.4 774.9,942.3 780.5,944.2 781.7,946.2 786.6,948.1 789.9,950.6 764.9,952.3 803.2,954.8 784.9,957.3 766.6,959.8 767.1,962.3 761.6,964.8 759.5,967.3 763.2,969.8 798.2,973.1 800.2,975.2 799.9,977.3 764.9,978.9 767.4,980.9 768.0,983.0 765.7,985.0 761.6,987.5 767.4,989.6 773.2,991.7 785.4,993.6 797.7,995.6 809.9,997.5 783.2,999.1 789.9,1001.1 796.5,1003.0 803.2,1005.0 786.6,1007.5 754.9,1010.8 751.6,1013.3 751.6,1015.8 750.6,1017.7 753.9,1019.5 759.8,1021.4 759.9,1023.3 763.1,1025.8 768.2,1028.3 775.7,1030.8 783.2,1033.3 803.2,1035.8 753.3,1037.4 750.8,1039.9 745.8,1042.4 744.4,1044.2 749.1,1046.0 745.2,1047.8 750.1,1049.5 747.0,1051.3 752.3,1053.1 749.9,1054.9 749.1,1057.0 753.7,1059.1 751.1,1061.1 753.3,1063.2 756.7,1065.3 756.3,1067.4 760.8,1069.5 761.6,1071.6 755.4,1073.8 752.8,1076.0 746.6,1078.2 756.6,1080.7 766.6,1083.2 759.1,1085.7 751.6,1088.2 751.0,1090.3 754.4,1092.3 752.0,1094.4 753.3,1096.5 759.2,1098.2 761.6,1099.9 751.6,1102.4 741.6,1104.9 742.8,1107.0 747.5,1109.1 744.7,1111.1 749.9,1113.2 752.1,1115.1 751.0,1117.1 753.3,1119.0 756.4,1121.7 762.8,1123.6 769.1,1125.5 755.1,1128.1 759.3,1130.0 759.2,1131.9 762.7,1133.8 761.2,1135.7 754.8,1137.7 753.8,1139.6 752.9,1141.5 755.1,1143.4 774.2,1145.9 783.8,1147.8 793.4,1149.8 765.3,1151.0 773.0,1152.3 770.6,1154.0 767.6,1155.7 761.5,1157.4 764.9,1159.3 770.4,1161.3 770.7,1163.2 763.8,1165.1 762.8,1167.0 758.9,1168.9 755.5,1170.8 756.2,1172.8 752.5,1174.7 748.7,1176.6 753.8,1178.5 758.9,1180.4 758.9,1182.3 758.1,1184.2 754.1,1186.2 751.3,1188.1 771.7,1190.0 772.8,1191.9 777.5,1193.8 781.9,1195.7 786.0,1197.8 782.7,1200.0 785.7,1202.1 786.0,1204.2 782.7,1206.4 779.3,1208.5 784.4,1209.7 780.1,1211.4 778.9,1213.2 779.3,1214.9 741.0,1217.4 737.2,1220.0 740.0,1222.5 746.2,1225.1 745.0,1226.8 739.1,1228.5 738.5,1230.2 742.3,1232.8 743.6,1235.3 737.8,1237.5 736.6,1239.7 748.7,1242.3" fill="none" stroke="#000" stroke-width="1.6" stroke-linejoin="round" stroke-linecap="round" />
<polyline points="1631.6,192.5 1636.6,195.0 1633.3,198.3 1643.3,200.8 1645.5,203.7 1648.3,206.6 1649.7,208.9 1649.8,211.2 1650.5,213.5 1652.4,215.8 1652.0,218.3 1650.3,220.8 1649.9,223.3 1650.4,225.8 1649.3,228.3 1649.6,230.8 1650.8,233.3 1641.6,235.8 1644.9,239.9 1634.9,242.4 1631.6,245.3 1635.4,247.6 1640.0,249.9 1643.0,252.7 1643.4,255.4 1646.6,258.2 1646.3,260.7 1646.6,263.2 1649.1,265.4 1649.6,267.7 1651.6,269.9 1651.7,272.4 1652.2,274.9 1650.5,277.4 1650.8,279.9 1653.1,282.1 1655.9,284.3 1659.9,286.5 1662.7,288.7 1663.8,291.0 1666.6,293.2 1674.9,294.0 1658.3,295.7 1661.0,298.2 1662.9,300.7 1664.9,303.2 1667.5,305.7 1671.6,308.2 1672.3,310.4 1671.1,312.6 1671.6,314.8 1653.3,318.2 1666.6,321.5 1659.9,324.0 1653.3,326.5 1658.5,328.7 1664.7,331.0 1669.9,333.2 1671.6,335.7 1674.1,338.2 1651.6,342.3 1656.6,346.5 1654.1,349.0 1649.9,351.5 1649.9,354.8 1658.3,358.1 1656.5,360.3 1655.7,362.6 1654.9,364.8 1658.7,367.3 1661.6,369.8 1660.3,372.6 1661.0,375.3 1659.9,378.1 1664.9,380.9 1671.9,383.6 1676.6,386.4 1684.9,388.9 1676.6,391.1 1668.2,393.3 1680.7,397.5 1675.9,400.0 1668.0,402.5 1663.2,405.0 1667.9,407.5 1671.6,410.0 1668.6,412.2 1662.8,414.4 1659.9,416.6 1662.5,419.1 1663.2,421.6 1659.5,423.8 1656.9,426.1 1653.3,428.3 1653.1,430.8 1655.2,433.3 1655.4,435.8 1656.6,438.3 1664.9,441.6 1663.8,443.9 1661.3,446.3 1659.3,448.6 1658.5,451.0 1656.6,453.3 1654.6,456.1 1653.6,458.8 1651.6,461.6 1663.2,464.9 1663.4,467.1 1666.0,469.4 1665.7,471.6 1663.8,474.5 1663.2,477.4 1653.3,481.6 1658.8,484.9 1663.2,488.2 1665.2,490.5 1665.3,492.9 1667.8,495.2 1667.6,497.6 1669.9,499.9 1666.5,502.7 1664.8,505.4 1661.6,508.2 1662.7,510.7 1665.5,513.2 1665.7,515.7 1667.4,518.2 1662.3,521.0 1658.0,523.7 1654.1,526.5 1659.9,529.8 1658.0,532.0 1658.6,534.3 1656.6,536.5 1663.2,539.0 1669.9,541.5 1673.2,544.8 1676.5,547.0 1681.5,549.3 1684.1,551.5 1674.9,553.7 1665.8,555.9 1656.6,558.1 1658.5,560.6 1657.5,563.1 1659.9,565.6 1659.9,568.1 1663.3,570.3 1664.6,572.6 1668.2,574.8 1669.2,577.3 1668.5,579.8 1669.3,582.3 1668.2,584.8 1666.9,587.1 1665.7,589.4 1664.9,591.7 1660.8,594.6 1658.3,597.5 1662.4,601.6 1662.4,605.8 1658.3,610.0 1663.6,612.5 1668.2,615.0 1671.7,617.9 1676.6,620.8 1689.9,625.0 1668.2,628.3 1669.0,630.8 1667.5,633.3 1667.2,635.8 1666.8,638.3 1666.0,640.8 1666.6,643.3 1667.0,645.6 1668.4,648.0 1670.4,650.3 1671.9,652.7 1671.4,655.0 1673.2,657.4 1669.3,660.3 1664.9,663.2 1664.1,665.5 1663.8,667.9 1664.9,670.2 1663.6,672.6 1664.1,674.9 1664.4,677.4 1663.1,679.9 1661.7,682.4 1661.6,684.9 1662.5,687.4 1661.8,689.9 1662.5,692.4 1663.2,694.9 1671.6,697.4 1679.9,699.9 1694.9,703.2 1704.1,706.4 1713.2,709.5 1691.6,711.9 1669.9,714.2 1668.2,717.5 1674.9,721.6 1671.6,725.8 1683.2,728.3 1693.2,731.6 1681.6,735.0 1694.9,736.6 1689.9,740.0 1709.9,742.5 1693.2,745.0 1676.6,747.5 1684.1,750.0 1691.6,752.4 1665.7,754.9 1666.9,757.4 1666.6,759.9 1671.7,762.1 1674.5,764.4 1679.9,766.6 1688.2,770.8 1672.4,773.3 1676.6,776.6 1696.5,779.1 1705.7,781.6 1714.9,784.1 1666.6,787.4 1668.5,789.9 1670.3,792.4 1671.6,794.9 1670.6,797.1 1672.5,799.4 1671.6,801.6 1679.9,804.9 1674.8,807.4 1671.6,809.9 1671.4,812.1 1670.0,814.3 1669.9,816.5 1672.0,819.3 1671.9,822.1 1673.2,824.9 1676.4,827.7 1677.4,830.4 1680.7,833.2 1682.2,835.7 1683.2,838.2 1679.7,841.5 1678.2,844.8 1669.9,848.2" fill="none" stroke="#000" stroke-width="1.5" stroke-linejoin="round" stroke-linecap="round" />
<rect x="1039.5" y="905" width="39.2" height="39.5" fill="#948a54"/>
<rect x="1041.5" y="979" width="39.5" height="39" fill="#996633"/>
<rect x="1039.5" y="1039" width="39.2" height="39" fill="#767171"/>
<rect x="1039.4" y="1096" width="41.7" height="31.8" fill="url(#lamg)"/>
<g fill="#444"><ellipse cx="1045.3" cy="1166.3" rx="5.9" ry="5.7"/><ellipse cx="1057.2" cy="1168.5" rx="3.3" ry="2.6"/><ellipse cx="1070.2" cy="1166.5" rx="7.2" ry="6.4"/></g>
<path d="M1041.0 1197.5V1210.3H1060.0ZM1065.4 1197.5V1210.3H1084.4Z" fill="none" stroke="#0a0a0a" stroke-width="1.8" stroke-linejoin="miter"/>
<polyline points="1036,1248.9 1046.2,1236.7 1068.1,1248.5 1080.8,1236.2 1102.7,1248.5" fill="none" stroke="#111" stroke-width="1.8"/>
<text x="414.6" y="24.5" font-size="23" font-weight="bold" fill="#2a2e35" text-anchor="start" textLength="101.9" lengthAdjust="spacingAndGlyphs" >PS92/039</text>
<text x="1312.2" y="35.1" font-size="23" font-weight="bold" fill="#2a2e35" text-anchor="start" textLength="101.1" lengthAdjust="spacingAndGlyphs" >PS92/045</text>
<text x="97.8" y="109.3" font-size="27.5" font-weight="normal" fill="#1a1a1a" text-anchor="start" textLength="136.5" lengthAdjust="spacingAndGlyphs" stroke="#1a1a1a" stroke-width="0.55" stroke-linejoin="round">Core Image</text>
<text x="250.1" y="97.2" font-size="25.5" font-weight="normal" fill="#1a1a1a" text-anchor="start" textLength="141.3" lengthAdjust="spacingAndGlyphs" stroke="#1a1a1a" stroke-width="0.55" stroke-linejoin="round">Lithological</text>
<text x="264.7" y="127.3" font-size="25.5" font-weight="normal" fill="#1a1a1a" text-anchor="start" textLength="120.8" lengthAdjust="spacingAndGlyphs" stroke="#1a1a1a" stroke-width="0.55" stroke-linejoin="round">Parameter</text>
<text x="413.3" y="111.5" font-size="27.3" font-weight="bold" fill="#111" text-anchor="start" textLength="179.7" lengthAdjust="spacingAndGlyphs" >Mn Area *1000</text>
<text x="613.8" y="111.3" font-size="26" font-weight="bold" fill="#111" text-anchor="start" textLength="262.4" lengthAdjust="spacingAndGlyphs" >Bulk Density (g/cm3)</text>
<text x="1036.3" y="119.4" font-size="27.6" font-weight="normal" fill="#1a1a1a" text-anchor="start" textLength="134.8" lengthAdjust="spacingAndGlyphs" stroke="#1a1a1a" stroke-width="0.55" stroke-linejoin="round">Core Image</text>
<text x="1187.9" y="111.1" font-size="26.5" font-weight="normal" fill="#1a1a1a" text-anchor="start" textLength="140" lengthAdjust="spacingAndGlyphs" stroke="#1a1a1a" stroke-width="0.55" stroke-linejoin="round">Lithological</text>
<text x="1200.6" y="141.2" font-size="27" font-weight="normal" fill="#1a1a1a" text-anchor="start" textLength="122.4" lengthAdjust="spacingAndGlyphs" stroke="#1a1a1a" stroke-width="0.55" stroke-linejoin="round">Parameter</text>
<text x="1342.8" y="117.1" font-size="25" font-weight="bold" fill="#111" text-anchor="start" textLength="177.3" lengthAdjust="spacingAndGlyphs" >Mn Area *1000</text>
<text x="1531.4" y="118.8" font-size="24.8" font-weight="bold" fill="#111" text-anchor="start" textLength="263.4" lengthAdjust="spacingAndGlyphs" >Bulk Density (g/cm3)</text>
<text x="417.5" y="165.3" font-size="22.7" font-weight="bold" fill="#111" text-anchor="start" textLength="13.2" lengthAdjust="spacingAndGlyphs" >0</text>
<text x="484.3" y="165.3" font-size="22.7" font-weight="bold" fill="#111" text-anchor="start" textLength="37.7" lengthAdjust="spacingAndGlyphs" >100</text>
<text x="564.4" y="165.3" font-size="22.7" font-weight="bold" fill="#111" text-anchor="start" textLength="37.8" lengthAdjust="spacingAndGlyphs" >200</text>
<text x="648.2" y="165.7" font-size="22" font-weight="bold" fill="#111" text-anchor="start" textLength="31.2" lengthAdjust="spacingAndGlyphs" >1.0</text>
<text x="728.6" y="165.7" font-size="22" font-weight="bold" fill="#111" text-anchor="start" textLength="30.7" lengthAdjust="spacingAndGlyphs" >1.5</text>
<text x="808.8" y="165.7" font-size="22" font-weight="bold" fill="#111" text-anchor="start" textLength="31.3" lengthAdjust="spacingAndGlyphs" >2.0</text>
<text x="1346.2" y="172.9" font-size="22.2" font-weight="bold" fill="#111" text-anchor="start" textLength="12.6" lengthAdjust="spacingAndGlyphs" >0</text>
<text x="1396.9" y="172.9" font-size="22.2" font-weight="bold" fill="#111" text-anchor="start" textLength="36.9" lengthAdjust="spacingAndGlyphs" >100</text>
<text x="1460.6" y="172.9" font-size="22.2" font-weight="bold" fill="#111" text-anchor="start" textLength="36.3" lengthAdjust="spacingAndGlyphs" >200</text>
<text x="1566.6" y="171.8" font-size="22.3" font-weight="bold" fill="#111" text-anchor="start" textLength="31.7" lengthAdjust="spacingAndGlyphs" >1.0</text>
<text x="1646.9" y="171.8" font-size="22.3" font-weight="bold" fill="#111" text-anchor="start" textLength="30.8" lengthAdjust="spacingAndGlyphs" >1.5</text>
<text x="1727.7" y="171.8" font-size="22.3" font-weight="bold" fill="#111" text-anchor="start" textLength="31.3" lengthAdjust="spacingAndGlyphs" >2.0</text>
<text x="1100.8" y="912.1" font-size="25" font-weight="bold" fill="#111" text-anchor="start" textLength="309.4" lengthAdjust="spacingAndGlyphs" >Intercalated brownish and</text>
<text x="1100.8" y="942" font-size="25" font-weight="bold" fill="#111" text-anchor="start" textLength="153.2" lengthAdjust="spacingAndGlyphs" >greyish layer</text>
<text x="1101.2" y="1002.3" font-size="25.5" font-weight="bold" fill="#111" text-anchor="start" textLength="257" lengthAdjust="spacingAndGlyphs" >Dark Brown sediment</text>
<text x="1101.2" y="1060.6" font-size="25" font-weight="bold" fill="#111" text-anchor="start" textLength="231.5" lengthAdjust="spacingAndGlyphs" >Dark grey sediment</text>
<text x="1104.1" y="1116" font-size="26.5" font-weight="bold" fill="#111" text-anchor="start" textLength="188.8" lengthAdjust="spacingAndGlyphs" >Laminated layer</text>
<text x="1104.1" y="1169.5" font-size="26" font-weight="bold" fill="#111" text-anchor="start" textLength="184.6" lengthAdjust="spacingAndGlyphs" >Diamicton layer</text>
<text x="1104.8" y="1211.4" font-size="26.5" font-weight="bold" fill="#111" text-anchor="start" textLength="44.7" lengthAdjust="spacingAndGlyphs" >IRD</text>
<text x="1105.8" y="1250.9" font-size="25.5" font-weight="bold" fill="#111" text-anchor="start" textLength="210.1" lengthAdjust="spacingAndGlyphs" >Erosional surface</text>
<text x="93" y="204.9" font-size="24" font-weight="normal" fill="#1e1e1e" text-anchor="start" textLength="12.8" lengthAdjust="spacingAndGlyphs" stroke="#1e1e1e" stroke-width="0.3" stroke-linejoin="round">0</text>
<text x="74.2" y="330.6" font-size="24" font-weight="normal" fill="#1e1e1e" text-anchor="start" textLength="36.2" lengthAdjust="spacingAndGlyphs" stroke="#1e1e1e" stroke-width="0.3" stroke-linejoin="round">100</text>
<text x="75.4" y="449.7" font-size="24" font-weight="normal" fill="#1e1e1e" text-anchor="start" textLength="38.2" lengthAdjust="spacingAndGlyphs" stroke="#1e1e1e" stroke-width="0.3" stroke-linejoin="round">200</text>
<text x="73.6" y="575.6" font-size="24" font-weight="normal" fill="#1e1e1e" text-anchor="start" textLength="37.6" lengthAdjust="spacingAndGlyphs" stroke="#1e1e1e" stroke-width="0.3" stroke-linejoin="round">300</text>
<text x="76" y="700.6" font-size="24" font-weight="normal" fill="#1e1e1e" text-anchor="start" textLength="36.6" lengthAdjust="spacingAndGlyphs" stroke="#1e1e1e" stroke-width="0.3" stroke-linejoin="round">400</text>
<text x="76.4" y="823.2" font-size="24" font-weight="normal" fill="#1e1e1e" text-anchor="start" textLength="36.2" lengthAdjust="spacingAndGlyphs" stroke="#1e1e1e" stroke-width="0.3" stroke-linejoin="round">500</text>
<text x="76.2" y="947.4" font-size="24" font-weight="normal" fill="#1e1e1e" text-anchor="start" textLength="37.4" lengthAdjust="spacingAndGlyphs" stroke="#1e1e1e" stroke-width="0.3" stroke-linejoin="round">600</text>
<text x="76.8" y="1065.4" font-size="24" font-weight="normal" fill="#1e1e1e" text-anchor="start" textLength="36.4" lengthAdjust="spacingAndGlyphs" stroke="#1e1e1e" stroke-width="0.3" stroke-linejoin="round">700</text>
<text x="72.6" y="1188.1" font-size="24" font-weight="normal" fill="#1e1e1e" text-anchor="start" textLength="37.6" lengthAdjust="spacingAndGlyphs" stroke="#1e1e1e" stroke-width="0.3" stroke-linejoin="round">800</text>
<text x="1023.8" y="201.1" font-size="23.5" font-weight="normal" fill="#1e1e1e" text-anchor="start" textLength="12.6" lengthAdjust="spacingAndGlyphs" stroke="#1e1e1e" stroke-width="0.3" stroke-linejoin="round">0</text>
<text x="1004.2" y="326.3" font-size="24" font-weight="normal" fill="#1e1e1e" text-anchor="start" textLength="38.4" lengthAdjust="spacingAndGlyphs" stroke="#1e1e1e" stroke-width="0.3" stroke-linejoin="round">100</text>
<text x="1005.2" y="446.8" font-size="24" font-weight="normal" fill="#1e1e1e" text-anchor="start" textLength="38" lengthAdjust="spacingAndGlyphs" stroke="#1e1e1e" stroke-width="0.3" stroke-linejoin="round">200</text>
<text x="1004" y="570.8" font-size="24" font-weight="normal" fill="#1e1e1e" text-anchor="start" textLength="37.2" lengthAdjust="spacingAndGlyphs" stroke="#1e1e1e" stroke-width="0.3" stroke-linejoin="round">300</text>
<text x="1006.2" y="695.7" font-size="24" font-weight="normal" fill="#1e1e1e" text-anchor="start" textLength="37" lengthAdjust="spacingAndGlyphs" stroke="#1e1e1e" stroke-width="0.3" stroke-linejoin="round">400</text>
<text x="1006.6" y="817.3" font-size="24" font-weight="normal" fill="#1e1e1e" text-anchor="start" textLength="37.8" lengthAdjust="spacingAndGlyphs" stroke="#1e1e1e" stroke-width="0.3" stroke-linejoin="round">500</text>
</svg></body></html>
